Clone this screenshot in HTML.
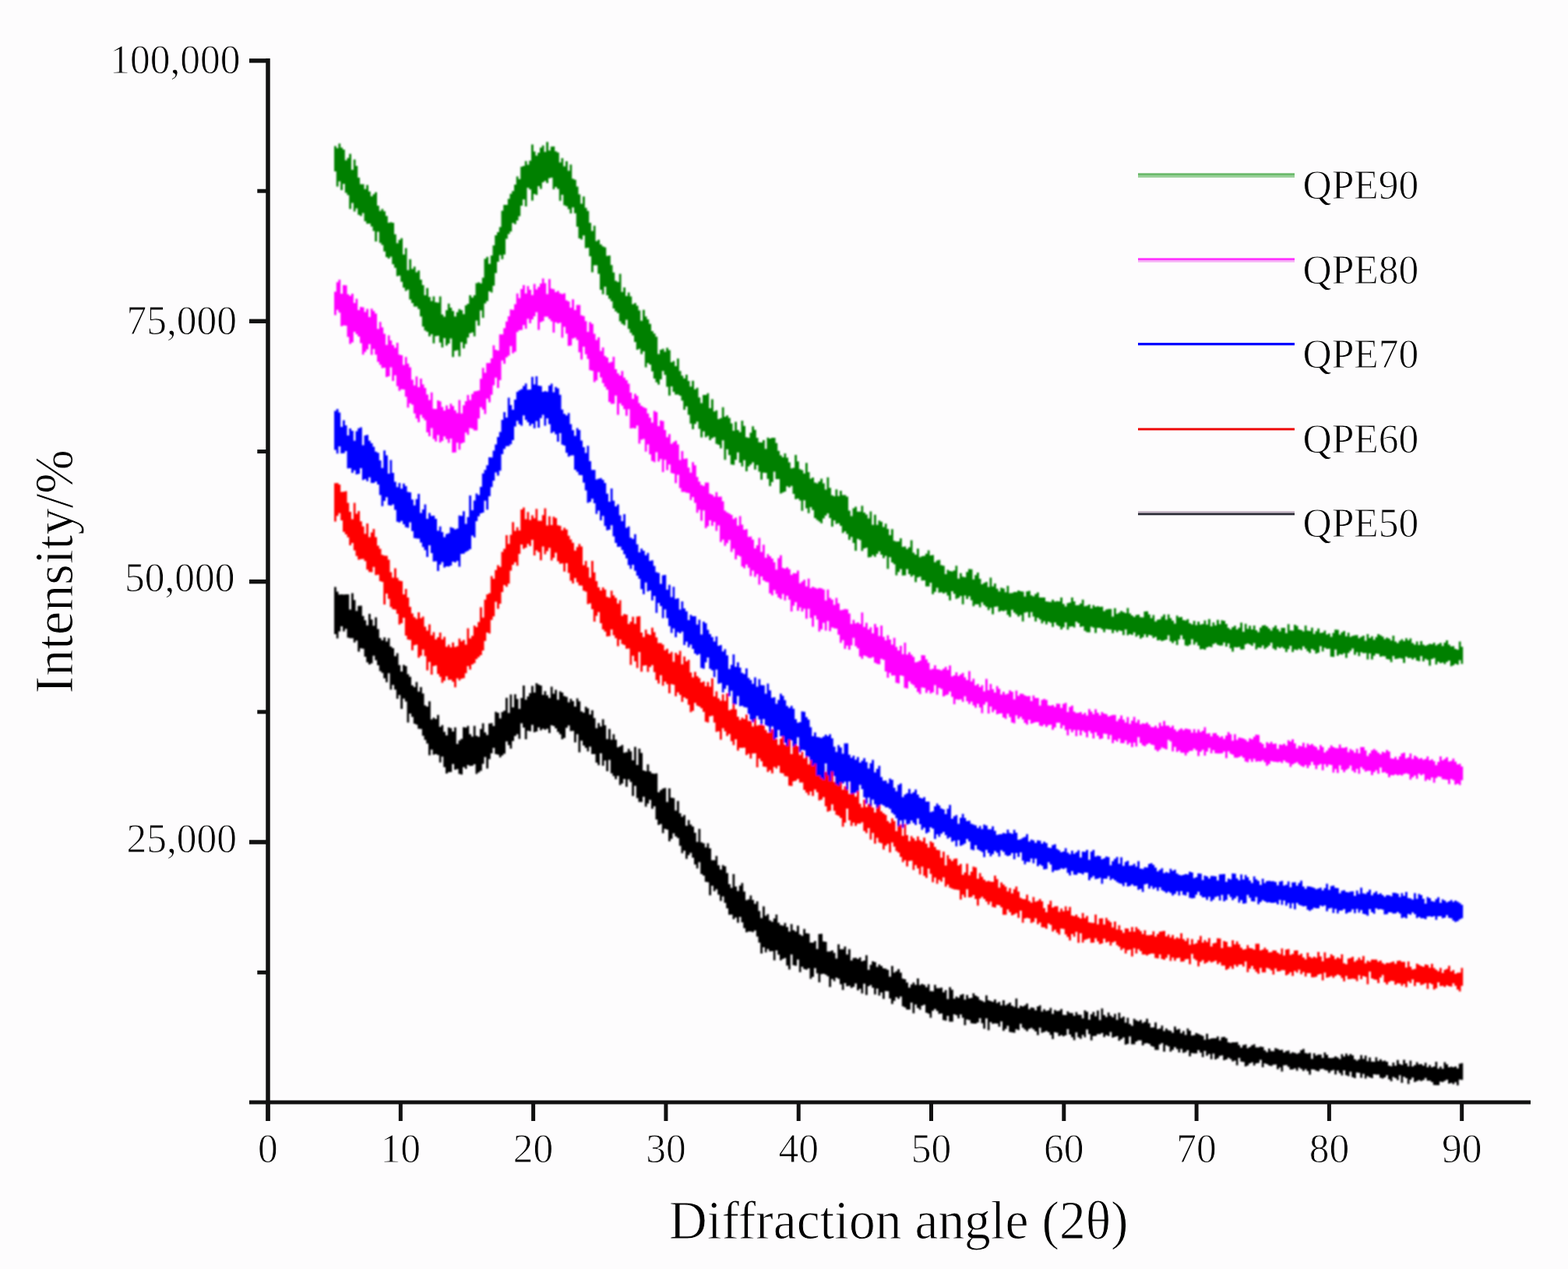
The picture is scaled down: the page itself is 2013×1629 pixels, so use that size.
<!DOCTYPE html>
<html><head><meta charset="utf-8"><title>XRD patterns</title>
<style>
html,body{margin:0;padding:0;background:#fdfcfd;}
body{width:2013px;height:1629px;overflow:hidden;}
svg{display:block;}
</style></head><body>
<svg width="2013" height="1629" viewBox="0 0 2013 1629">
<defs><filter id="bl" x="-2%" y="-2%" width="104%" height="104%"><feGaussianBlur stdDeviation="0.9"/></filter></defs>
<g filter="url(#bl)">
<path d="M429 753.6h2.8v5.8h2.7v3.9h2.7v-.3h2.8v.2h2.8v-.3h2.7v.1h2.7v19.4h2.8v-21h2.8v8.9h2.7v14h2.7v-6.6h2.8v-.1h2.8v13.1h2.7v5.6h2.7v6.4h2.8v-14.7h2.8v7.2h2.7v8h2.7v-10.7h2.8v14.9h2.8v11.5h2.7v3h2.7v-3.7h2.8v5.4h2.8v-4.4h2.7v10.9h2.7v1.8h2.8v10.3h2.8v-3.8h2.7v15.3h2.7v8.3h2.8v-8.6h2.8v1.6h2.7v10.6h2.7v3.1h2.8v11.1h2.8v2.1h2.7v-6.3h2.7v12.1h2.8v-5.7h2.8v8.2h2.7v15.4h2.7v1.4h2.8v-6.8h2.8v23.2h2.7v-2.1h2.7v1.6h2.8v-5.2h2.8v15.3h2.7v-2.2h2.7v8.6h2.8v4.6h2.8v-10.3h2.7v1h2.7v4.2h2.8v-5.2h2.8v21.4h2.7v-4.6h2.7v-2.1h2.8v-14.9h2.8v.6h2.7v-2.3h2.7v10.6h2.8v3.1h2.8v-13.8h2.7v12.9h2.7v1.2h2.8v-10.1h2.8v-7.2h2.7v11.7h2.7v3.2h2.8v-14.6h2.8v-.6h2.7v3.9h2.7v-18.3h2.8v1.1h2.8v7.3h2.7v-8.3h2.7v-1.6h2.8v-16.6h2.8v19.6h2.7v-23.8h2.7v16.6h2.8v-16.9h2.8v6.1h2.7v12.8h2.7v-14h2.8v-16.2h2.8v18.3h2.7v-4.3h2.7v-4.1h2.8v-9.2h2.8v8.4h2.7v-12.1h2.7v1.8h2.8v1.4h2.8v11.9h2.7v-4.8h2.7v5.2h2.8v3.7h2.8v-14.5h2.7v8.9h2.7v-4.9h2.8v12.7h2.8v-10.7h2.7v1.3h2.7v4.5h2.8v1.2h2.8v6.9h2.7v-4.6h2.7v3h2.8v7.2h2.8v-10.6h2.7v3.7h2.7v13h2.8v1.6h2.8v-7.5h2.7v2h2.7v8h2.8v-5.5h2.8v10h2.7v13h2.7v-6.5h2.8v4.1h2.8v-9.2h2.7v7.7h2.7v17.9h2.8v-13h2.8v13.6h2.7v-6.9h2.7v6.9h2.8v9.8h2.8v-1.1h2.7v-1.9h2.7v10.1h2.8v-.8h2.8v-4.2h2.7v3.3h2.7v11.3h2.8v-17.1h2.8v23.3h2.7v-21h2.7v5.4h2.8v22.5h2.8v1h2.7v-8.8h2.7v9.1h2.8v2.4h2.8v.5h2.7v-.4h2.7v24.2h2.8v-2.8h2.8v-1.9h2.7v-.7h2.7v18h2.8v-17.6h2.8v11.9h2.7v.5h2.7v16.2h2.8v-12.3h2.8v15.7h2.7v4.4h2.7v-2.2h2.8v13.7h2.8v-7.2h2.7v5.7h2.7v2.5h2.8v8h2.8v11.9h2.7v-16.7h2.7v17.2h2.8v1.3h2.8v5.2h2.7v-5.2h2.7v6.3h2.8v15.4h2.8v0h2.7v-5.6h2.7v12.1h2.8v5.5h2.8v-5.7h2.7v1.3h2.7v8.8h2.8v14.2h2.8v4.9h2.7v-17.9h2.7v16.1h2.8v5.7h2.8v-7h2.7v-3.2h2.7v11.1h2.8v10.9h2.8v-.9h2.7v-5h2.7v5.7h2.8v4.9h2.8v-3.2h2.7v12.4h2.7v9h2.8v-14.9h2.8v11.9h2.7v-2h2.7v8.1h2.8v1.7h2.8v-4.2h2.7v-4.9h2.7v10.3h2.8v3h2.8v.9h2.7v-3.6h2.7v5.4h2.8v5.6h2.8v-9.4h2.7v7.7h2.7v1.8h2.8v-7.5h2.8v11.2h2.7v1.7h2.7v-8.8h2.8v5.5h2.8v.7h2.7v11.4h2.7v.1h2.8v-2.2h2.8v10.3h2.7v-19.3h2.7v-.2h2.8v9.7h2.8v.5h2.7v12.6h2.7v-.2h2.8v-1.4h2.8v3.3h2.7v7.3h2.7v-18.2h2.8v6.2h2.8v.1h2.7v-3.5h2.7v10.1h2.8v-6.7h2.8v14.5h2.7v-3.2h2.7v-.3h2.8v1.4h2.8v-1.9h2.7v5h2.7v-1h2.8v-6.8h2.8v18.8h2.7v-6.4h2.7v-4.7h2.8v1.1h2.8v6.3h2.7v-3.4h2.7v2.2h2.8v3h2.8v.4h2.7v1.6h2.7v8.6h2.8v-13.6h2.8v8.5h2.7v-1.9h2.7v-2.7h2.8v4.4h2.8v7.8h2.7v.7h2.7v4.3h2.8v6.6h2.8v-4.1h2.7v-2.5h2.7v3.1h2.8v-8.4h2.8v8.7h2.7v-1.6h2.7v1.3h2.8v3h2.8v-3.7h2.7v8.6h2.7v.3h2.8v-8.3h2.8v4.2h2.7v.2h2.7v-.9h2.8v6.1h2.8v-2.7h2.7v11.3h2.7v-15.1h2.8v3.1h2.8v11.7h2.7v-2.9h2.7v1.6h2.8v-3.6h2.8v-1.1h2.7v7.1h2.7v-5.9h2.8v4.1h2.8v-.4h2.7v-6h2.7v3h2.8v1.5h2.8v4h2.7v1.3h2.7v1.4h2.8v-8.5h2.8v6.4h2.7v.9h2.7v1.1h2.8v-3h2.8v4.5h2.7v-1.7h2.7v4.6h2.8v-6.5h2.8v6.6h2.7v-1.9h2.7v-1.7h2.8v4h2.8v1.6h2.7v-10.8h2.7v12.2h2.8v-3h2.8v1h2.7v-1.6h2.7v-2.2h2.8v7.2h2.8v-2.2h2.7v.5h2.7v3.3h2.8v-5.1h2.8v-1.3h2.7v8h2.7v-3.1h2.8v2.2h2.8v-.7h2.7v-3.2h2.7v7.6h2.8v-4.8h2.8v1.3h2.7v-.4h2.7v-2.3h2.8v7.5h2.8v.2h2.7v-4.7h2.7v2h2.8v.3h2.8v3.5h2.7v-4.7h2.7v3.2h2.8v.2h2.8v4.5h2.7v-10.1h2.7v1.6h2.8v10.3h2.8v-7h2.7v-2.9h2.7v5.4h2.8v-7.3h2.8v12.3h2.7v-15.1h2.7v8.7h2.8v2.4h2.8v-5.8h2.7v4h2.7v2h2.8v-4.3h2.8v7.8h2.7v-9.3h2.7v6.8h2.8v-1.6h2.8v7.7h2.7v-6.3h2.7v7.9h2.8v2.4h2.8v-9.1h2.7v2.1h2.7v1.2h2.8v-1.8h2.8v4h2.7v-1.5h2.7v-3.9h2.8v5.8h2.8v5.5h2.7v-.4h2.7v-6.1h2.8v8.5h2.8v-.8h2.7v-3.9h2.7v7.2h2.8v-3.3h2.8v2.3h2.7v.6h2.7v2.6h2.8v-8h2.8v4h2.7v-1.1h2.7v5.5h2.8v-2.8h2.8v5.1h2.7v-8.3h2.7v2.9h2.8v6.2h2.8v-.5h2.7v-2.9h2.7v1.4h2.8v1.3h2.8v1.2h2.7v4.9h2.7v-7.8h2.8v7.1h2.8v-1h2.7v-.3h2.7v.1h2.8v-2.2h2.8v4.8h2.7v-3.8h2.7v-.7h2.8v1.8h2.8v5.2h2.7v.8h2.7v-.8h2.8v0h2.8v-.1h2.7v3.6h2.7v3.4h2.8v-3.2h2.8v-.9h2.7v4.7h2.7v-1.3h2.8v-2.4h2.8v-1.1h2.7v3.9h2.7v0h2.8v-.9h2.8v.3h2.7v4.4h2.7v2.3h2.8v-4.7h2.8v3.4h2.7v.2h2.7v-3.9h2.8v.8h2.8v1.5h2.7v-.3h2.7v3.3h2.8v-1.7h2.8v-.8h2.7v3.9h2.7v-1.5h2.8v.7h2.8v1.3h2.7v-1.3h2.7v-3.5h2.8v-1.4h2.8v5.2h2.7v.7h2.7v-.9h2.8v7.7h2.8v-7.4h2.7v3h2.7v-1.1h2.8v-.1h2.8v4.3h2.7v-7.1h2.7v3h2.8v4.1h2.8v.2h2.7v-.5h2.7v-1.7h2.8v1.5h2.8v2h2.7v-6.3h2.7v3.1h2.8v-3.8h2.8v2.7h2.7v-2.1h2.7v1.6h2.8v5.1h2.8v1.8h2.7v-1.9h2.7v-5.1h2.8v4.7h2.8v-4.2h2.7v7.1h2.7v-4.7h2.8v5.2h2.8v.2h2.7v-5.6h2.7v4.6h2.8v-2.1h2.8v2.4h2.7v-.6h2.7v1.4h2.8v4.9h2.8v.9h2.7v-4.9h2.7v4.1h2.8v-7.2h2.8v4.9h2.7v1.4h2.7v-6.5h2.8v4.3h2.8v3.9h2.7v-7.4h2.7v7.6h2.8v-1.7h2.8v-3.8h2.7v2.7h2.7v-.1h2.8v1.9h2.8v-3.8h2.7v5.9h2.7v-2.9h2.8v2.9h2.8v-1.1h2.7v-6h2.7v8.8h2.8v-2.5h2.8v2.7h2.7v-8.6h2.7v2.8h2.8v3.8h2.8v-.7h2.7v.8h2.7v-1.2h2.8v2.7h2.8v-6h2.7v-.9h2.7v21.6h-2.7v-.6h-2.7v7.6h-2.8v-4h-2.8v2.4h-2.7v-1.8h-2.7v1.1h-2.8v-5.1h-2.8v1.6h-2.7v1.6h-2.7v-.6h-2.8v4.5h-2.8v-.1h-2.7v-.1h-2.7v-3.9h-2.8v-1.7h-2.8v.1h-2.7v-3.5h-2.7v2.7h-2.8v1.2h-2.8v-1.2h-2.7v1.3h-2.7v1.1h-2.8v-5.6h-2.8v2.7h-2.7v5.6h-2.7v-7.6h-2.8v-1.8h-2.8v7.7h-2.7v-9.6h-2.7v6.1h-2.8v-2.3h-2.8v-1.7h-2.7v5.6h-2.7v-2.6h-2.8v-5.1h-2.8v2.7h-2.7v1.4h-2.7v-.9h-2.8v-4h-2.8v0h-2.7v-.6h-2.7v5h-2.8v-.8h-2.8v-1.5h-2.7v2.8h-2.7v-6h-2.8v5.2h-2.8v-6.3h-2.7v-.6h-2.7v7.4h-2.8v-1.3h-2.8v-7h-2.7v5.6h-2.7v-1.1h-2.8v-6.4h-2.8v6.7h-2.7v-3.2h-2.7v-3.1h-2.8v4.9h-2.8v-5.8h-2.7v1h-2.7v2.8h-2.8v-2.9h-2.8v-.7h-2.7v-1.6h-2.7v.5h-2.8v2.7h-2.8v-.8h-2.7v-1.4h-2.7v-.3h-2.8v6.9h-2.8v-4.5h-2.7v-2.7h-2.7v2.3h-2.8v-2.5h-2.8v-1.6h-2.7v3.9h-2.7v-2.9h-2.8v1.2h-2.8v.2h-2.7v-3.6h-2.7v-2.1h-2.8v.3h-2.8v7.9h-2.7v-5.2h-2.7v2.1h-2.8v-5.8h-2.8v.2h-2.7v1.7h-2.7v-.7h-2.8v-1.9h-2.8v-.9h-2.7v4.9h-2.7v-9.5h-2.8v4h-2.8v.6h-2.7v2.8h-2.7v-4.1h-2.8v1.3h-2.8v2.8h-2.7v1.2h-2.7v-5.8h-2.8v-.4h-2.8v-4.8h-2.7v9.4h-2.7v-5.9h-2.8v1h-2.8v-3.1h-2.7v-1.7h-2.7v2.3h-2.8v.9h-2.8v-6.1h-2.7v.7h-2.7v3.1h-2.8v1.3h-2.8v-7.5h-2.7v7.3h-2.7v-6.6h-2.8v2.1h-2.8v-6.1h-2.7v8h-2.7v-5.9h-2.8v-3.1h-2.8v4.1h-2.7v0h-2.7v-.5h-2.8v4.4h-2.8v-8.1h-2.7v2.4h-2.7v1.2h-2.8v-5.2h-2.8v4.6h-2.7v-4.3h-2.7v-2.5h-2.8v3.5h-2.8v2.4h-2.7v-6.8h-2.7v-1.6h-2.8v8.3h-2.8v-10.9h-2.7v1.6h-2.7v7.1h-2.8v-.1h-2.8v-4h-2.7v-.9h-2.7v-2.9h-2.8v-.8h-2.8v.5h-2.7v2.3h-2.7v-6.3h-2.8v-.2h-2.8v1.5h-2.7v3.7h-2.7v-.1h-2.8v-9.9h-2.8v9.5h-2.7v.9h-2.7v-9.2h-2.8v2.2h-2.8v2h-2.7v-6h-2.7v.9h-2.8v1h-2.8v-7.1h-2.7v5.3h-2.7v-1.4h-2.8v2.5h-2.8v-5.3h-2.7v1.7h-2.7v-.2h-2.8v2.4h-2.8v.2h-2.7v5.5h-2.7v-8h-2.8v-6.1h-2.8v10.2h-2.7v-3h-2.7v4.8h-2.8v-1.9h-2.8v-6.2h-2.7v9.9h-2.7v-3.6h-2.8v-3.7h-2.8v-7h-2.7v8.1h-2.7v1.3h-2.8v-1.5h-2.8v1.2h-2.7v-4.3h-2.7v-.8h-2.8v8.9h-2.8v-5.2h-2.7v-3.6h-2.7v-1.5h-2.8v1.2h-2.8v1.1h-2.7v-6.5h-2.7v9.4h-2.8v-4.8h-2.8v-2.5h-2.7v-2h-2.7v1.3h-2.8v3.1h-2.8v-2.4h-2.7v-2.1h-2.7v-5h-2.8v7.9h-2.8v-.9h-2.7v4.4h-2.7v-.5h-2.8v-.4h-2.8v-8.1h-2.7v4h-2.7v2.6h-2.8v-12.1h-2.8v6.9h-2.7v-4.2h-2.7v-.1h-2.8v.4h-2.8v-2.2h-2.7v10.6h-2.7v-15.4h-2.8v13.2h-2.8v-6.8h-2.7v-6.5h-2.7v5.3h-2.8v1.7h-2.8v0h-2.7v-.5h-2.7v-4.1h-2.8v-.7h-2.8v7.2h-2.7v-9.5h-2.7v-4.3h-2.8v5h-2.8v-4h-2.7v-1.2h-2.7v9.4h-2.8v.2h-2.8v-7.6h-2.7v6.2h-2.7v-.7h-2.8v-8.4h-2.8v.3h-2.7v-3.6h-2.7v-2.5h-2.8v2.2h-2.8v9.1h-2.7v-5.3h-2.7v-1.3h-2.8v-10.2h-2.8v1.2h-2.7v5.2h-2.7v-2.1h-2.8v-4.7h-2.8v11.4h-2.7v-13.8h-2.7v9.1h-2.8v-.2h-2.8v-2.6h-2.7v-1.5h-2.7v-12.5h-2.8v2.9h-2.8v-2.2h-2.7v4.8h-2.7v3.9h-2.8v-7h-2.8v-9.3h-2.7v-.1h-2.7v10h-2.8v-8.2h-2.8v3.8h-2.7v-8.8h-2.7v7.4h-2.8v-8.6h-2.8v-3.3h-2.7v1.4h-2.7v11.2h-2.8v-14.4h-2.8v12.5h-2.7v-6.1h-2.7v2.1h-2.8v-8.7h-2.8v4.1h-2.7v1.5h-2.7v-2.8h-2.8v.7h-2.8v-4h-2.7v8.7h-2.7v-7.4h-2.8v-6.9h-2.8v-1.4h-2.7v4.4h-2.7v-2.7h-2.8v10.2h-2.8v-13.7h-2.7v-2h-2.7v-1.3h-2.8v.6h-2.8v10.4h-2.7v-11.5h-2.7v-6.7h-2.8v11.3h-2.8v2.5h-2.7v-13.5h-2.7v1.6h-2.8v-.7h-2.8v-3.1h-2.7v7.1h-2.7v-16.2h-2.8v8h-2.8v-.7h-2.7v-13.9h-2.7v19.2h-2.8v-5h-2.8v-9.7h-2.7v1.4h-2.7v1.6h-2.8v-7.3h-2.8v-5.4h-2.7v12.7h-2.7v-11.6h-2.8v.1h-2.8v-2.9h-2.7v4.3h-2.7v-6.5h-2.8v8h-2.8v-14.1h-2.7v-7.8h-2.7v-7.6h-2.8v1.9h-2.8v-.8h-2.7v.1h-2.7v1h-2.8v-5.3h-2.8v-7.4h-2.7v-7h-2.7v7.5h-2.8v-6.9h-2.8v2.4h-2.7v-6.1h-2.7v.3h-2.8v-8.4h-2.8v-7h-2.7v-8.2h-2.7v5.7h-2.8v-8h-2.8v-6.9h-2.7v2.6h-2.7v-7.2h-2.8v12.4h-2.8v-16.8h-2.7v-.6h-2.7v-7.9h-2.8v-1.9h-2.8v-15.4h-2.7v8h-2.7v-5h-2.8v-8.7h-2.8v-6.2h-2.7v3h-2.7v4.6h-2.8v-10.3h-2.8v3.2h-2.7v-9.6h-2.7v-10h-2.8v-1.9h-2.8v-4.1h-2.7v7.1h-2.7v3.3h-2.8v-15.1h-2.8v-.9h-2.7v5.4h-2.7v-11.7h-2.8v1.1h-2.8v-6.8h-2.7v-17.1h-2.7v3.2h-2.8v-11.5h-2.8v4.9h-2.7v3.8h-2.7v-12.7h-2.8v6.7h-2.8v.1h-2.7v-5.1h-2.7v-15.7h-2.8v13h-2.8v-18h-2.7v-3.1h-2.7v9.4h-2.8v-10h-2.8v5.7h-2.7v2h-2.7v-11.8h-2.8v4.4h-2.8v-4h-2.7v-3.6h-2.7v-17.2h-2.8v14.4h-2.8v-13.6h-2.7v6.7h-2.7v-16h-2.8v15.2h-2.8v-3.2h-2.7v-11h-2.7v0h-2.8v-9.4h-2.8v5.9h-2.7v-4.4h-2.7v-3.2h-2.8v-6.2h-2.8v15.1h-2.7v-23.3h-2.7v10.6h-2.8v-14.9h-2.8v.3h-2.7v-7.2h-2.7v3h-2.8v12.9h-2.8v1.8h-2.7v-6.4h-2.7v-3h-2.8v-4.7h-2.8v-2.9h-2.7v-1.1h-2.7v10.1h-2.8v-5.5h-2.8v1.3h-2.7v-1.3h-2.7v2.1h-2.8v-3.8h-2.8v5.3h-2.7v.9h-2.7v-9.6h-2.8v8.3h-2.8v-.8h-2.7v11.1h-2.7v-14.9h-2.8v-5.7h-2.8v20.1h-2.7v-6.1h-2.7v2.3h-2.8v6.6h-2.8v9.8h-2.7v-4.5h-2.7v-4.9h-2.8v15.9h-2.8v2.1h-2.7v2.5h-2.7v-3.5h-2.8v-.7h-2.8v-8h-2.7v6.9h-2.7v7.6h-2.8v12h-2.8v-14.7h-2.7v8.7h-2.7v9h-2.8v2.1h-2.8v1.8h-2.7v-12.3h-2.7v1.9h-2.8v.3h-2.8v-1.2h-2.7v5h-2.7v-2.4h-2.8v9.5h-2.8v-.8h-2.7v-6.1h-2.7v.8h-2.8v-7.4h-2.8v10.4h-2.7v.2h-2.7v1.7h-2.8v-8.3h-2.8v-13.5h-2.7v7.5h-2.7v-9.4h-2.8v-1.2h-2.8v.7h-2.7v-6.5h-2.7v7.2h-2.8v-15.1h-2.8v-4.6h-2.7v-5.2h-2.7v-8.9h-2.8v-.3h-2.8v-5.2h-2.7v-1.2h-2.7v-8.8h-2.8v-4.2h-2.8v11.6h-2.7v-27.2h-2.7v-3.7h-2.8v13.2h-2.8v-17.7h-2.7v4.7h-2.7v-11.6h-2.8v-6.1h-2.8v6h-2.7v-21h-2.7v11.6h-2.8v-5h-2.8v-7h-2.7v-2.2h-2.7v-7.7h-2.8v-6.3h-2.8v-5.8h-2.7v9.8h-2.7v1.3h-2.8v-2.6h-2.8v-7.2h-2.7v-10.3h-2.7v-.5h-2.8v4.2h-2.8v-14.2h-2.7v2.4h-2.7v-5.4h-2.8v0h-2.8v-.8h-2.7v-11.2h-2.7v3.2h-2.8v-6.4h-2.8v6.5h-2.7v8.9h-2.7v-5.4h-2.8z" fill="#000000"/>
<path d="M429 620.2h2.8v-.3h2.7v2.2h2.7v9.4h2.8v-.3h2.8v-.6h2.7v14.9h2.7v11.6h2.8v9.3h2.8v-21h2.7v14h2.7v-3.3h2.8v13.2h2.8v6.4h2.7v9.6h2.7v-13.4h2.8v17.5h2.8v-5.8h2.7v-4.7h2.7v10.6h2.8v10.9h2.8v4.1h2.7v7.7h2.7v1h2.8v.3h2.8v5.1h2.7v16h2.7v7h2.8v-12.1h2.8v12.3h2.7v3.4h2.7v.9h2.8v17h2.8v-7h2.7v10.8h2.7v12.2h2.8v8.3h2.8v4.8h2.7v2.3h2.7v-8.4h2.8v7.5h2.8v-2h2.7v12.9h2.7v4.9h2.8v-7.8h2.8v13.8h2.7v-3.9h2.7v9.3h2.8v-2.8h2.8v-6.1h2.7v8.9h2.7v-3.4h2.8v12.9h2.8v-2.9h2.7v3.6h2.7v-6.3h2.8v5.9h2.8v-1.1h2.7v-9.7h2.7v3.4h2.8v-1.8h2.8v6.2h2.7v-21h2.7v12.8h2.8v-3.1h2.8v-13.4h2.7v2.2h2.7v-6.6h2.8v-19.1h2.8v13.4h2.7v-23.1h2.7v-6.7h2.8v-1.6h2.8v-21.9h2.7v3.6h2.7v-11.3h2.8v-6.2h2.8v2.2h2.7v-19.4h2.7v-3.8h2.8v-17.5h2.8v11.1h2.7v-11.6h2.7v-16.3h2.8v11.2h2.8v-4.7h2.7v4.1h2.7v-26.9h2.8v-2.4h2.8v14.8h2.7v-9.2h2.7v10.4h2.8v-6.2h2.8v3.8h2.7v-11.9h2.7v15.1h2.8v.1h2.8v-7.2h2.7v-8.8h2.7v22.1h2.8v-11.8h2.8v11.1h2.7v-10.7h2.7v1.8h2.8v9.2h2.8v.7h2.7v5.8h2.7v-3.1h2.8v2.2h2.8v7.9h2.7v4.8h2.7v4.2h2.8v10h2.8v-4.4h2.7v-4h2.7v3.1h2.8v24.1h2.8v-5.6h2.7v8.4h2.7v13.2h2.8v-21.5h2.8v14.8h2.7v11.3h2.7v7.9h2.8v3.9h2.8v-4h2.7v2.9h2.7v9.5h2.8v1h2.8v-9.1h2.7v6.1h2.7v3.1h2.8v7.4h2.8v-4.3h2.7v19.9h2.7v-2.1h2.8v.7h2.8v12.1h2.7v-3.2h2.7v-6.2h2.8v9h2.8v-9.1h2.7v-.7h2.7v21h2.8v5.9h2.8v-9.6h2.7v5.5h2.7v1.3h2.8v-9.2h2.8v5.7h2.7v6.8h2.7v7.3h2.8v0h2.8v1.8h2.7v7.3h2.7v-2h2.8v6.3h2.8v-2.2h2.7v12.6h2.7v-11.3h2.8v2.5h2.8v-5h2.7v17.2h2.7v-10h2.8v6.3h2.8v-2.2h2.7v16.4h2.7v6.3h2.8v-7.1h2.8v5.5h2.7v2.6h2.7v5.5h2.8v-1.3h2.8v6.1h2.7v-5.4h2.7v6h2.8v-10.7h2.8v23.2h2.7v-6.6h2.7v9h2.8v3.2h2.8v-8.4h2.7v8.6h2.7v-9.8h2.8v21.8h2.8v-1.2h2.7v-16.4h2.7v16.4h2.8v9.4h2.8v4.2h2.7v-2.9h2.7v1.6h2.8v-5.6h2.8v8.1h2.7v0h2.7v7.1h2.8v-9.5h2.8v8.5h2.7v-1h2.7v-.2h2.8v1h2.8v5.9h2.7v3.6h2.7v-1h2.8v-3.5h2.8v1.8h2.7v10.5h2.7v7.6h2.8v-7.9h2.8v-6.6h2.7v14.4h2.7v-3.8h2.8v-4.1h2.8v19.8h2.7v-15.9h2.7v2.1h2.8v3.8h2.8v11.2h2.7v-4.1h2.7v8.5h2.8v-5.9h2.8v13.5h2.7v-14.9h2.7v-.7h2.8v6.2h2.8v5.3h2.7v9.1h2.7v-1.9h2.8v-.7h2.8v7.5h2.7v-3.8h2.7v3.5h2.8v-4.1h2.8v17.1h2.7v-5.7h2.7v6.7h2.8v-1.8h2.8v10.7h2.7v-4.5h2.7v.9h2.8v9.2h2.8v-14.7h2.7v10.9h2.7v7h2.8v-7.2h2.8v16.5h2.7v4.6h2.7v-9.9h2.8v9.6h2.8v-4.2h2.7v-1.1h2.7v5.9h2.8v6.3h2.8v-8.5h2.7v-4.7h2.7v11.7h2.8v2.4h2.8v2h2.7v8.2h2.7v2.5h2.8v-6.2h2.8v3.6h2.7v12.9h2.7v-13.6h2.8v5.3h2.8v14.4h2.7v-14.9h2.7v13.9h2.8v7.8h2.8v-6.5h2.7v2.6h2.7v3.4h2.8v-5.6h2.8v4.8h2.7v1.7h2.7v-5h2.8v7.7h2.8v5.2h2.7v-8.1h2.7v1.7h2.8v5.5h2.8v3.9h2.7v.4h2.7v9.5h2.8v-7.7h2.8v17.7h2.7v-13.2h2.7v4.8h2.8v2.7h2.8v-2.7h2.7v-.5h2.7v9h2.8v-2h2.8v13.9h2.7v-2.9h2.7v-11.4h2.8v14.7h2.8v-4.3h2.7v-6.7h2.7v1.1h2.8v14.5h2.8v-7.2h2.7v4.6h2.7v3.8h2.8v2.3h2.8v-.8h2.7v1.1h2.7v.3h2.8v-8.1h2.8v4.6h2.7v10.8h2.7v-6.6h2.8v2.8h2.8v2.6h2.7v6h2.7v-4.2h2.8v6.7h2.8v-5.3h2.7v-3.4h2.7v6.4h2.8v8.1h2.8v1.4h2.7v.3h2.7v-5.6h2.8v8h2.8v2.1h2.7v-7.3h2.7v6.2h2.8v-1.1h2.8v-2.5h2.7v2.9h2.7v8.9h2.8v5.3h2.8v-10h2.7v-4.9h2.7v8.8h2.8v-1.6h2.8v-.2h2.7v7.4h2.7v-4.3h2.8v3.4h2.8v-6.1h2.7v5.3h2.7v-4.6h2.8v10.9h2.8v.9h2.7v-2.2h2.7v3.3h2.8v1.9h2.8v-7.1h2.7v6.6h2.7v-2.8h2.8v8.1h2.8v.5h2.7v.3h2.7v-10.8h2.8v12.7h2.8v-7.7h2.7v-.2h2.7v8.1h2.8v-8.5h2.8v3.2h2.7v2.2h2.7v6.7h2.8v-7.5h2.8v10.3h2.7v-5.4h2.7v6.1h2.8v3.5h2.8v-5.7h2.7v.4h2.7v3.8h2.8v-5.9h2.8v5.9h2.7v-5.9h2.7v2.8h2.8v2.4h2.8v3.8h2.7v-4.7h2.7v6.2h2.8v0h2.8v-.5h2.7v-4.6h2.7v6.8h2.8v-3.2h2.8v-3h2.7v-.6h2.7v-.4h2.8v7h2.8v-2.6h2.7v4h2.7v-3.1h2.8v4.9h2.8v-1.9h2.7v1.4h2.7v-6.7h2.8v7.4h2.8v2.6h2.7v-3.7h2.7v8.5h2.8v-7.2h2.8v6.4h2.7v-1.3h2.7v-3.9h2.8v-5.2h2.8v8.3h2.7v-3.2h2.7v2.6h2.8v-5.1h2.8v10.7h2.7v-4h2.7v-.7h2.8v-5.7h2.8v.2h2.7v12.4h2.7v-9.2h2.8v1.2h2.8v6.2h2.7v.2h2.7v-8.5h2.8v5.2h2.8v-3.7h2.7v3.7h2.7v4.3h2.8v2.5h2.8v-.8h2.7v-5h2.7v3.7h2.8v.5h2.8v1.6h2.7v-7.6h2.7v.2h2.8v8.3h2.8v-1h2.7v-2.4h2.7v2.5h2.8v3.4h2.8v-.1h2.7v-2.3h2.7v.2h2.8v2.7h2.8v1.9h2.7v-7.4h2.7v9.1h2.8v-7.4h2.8v-.8h2.7v7.5h2.7v-1.3h2.8v-4.3h2.8v-.2h2.7v5.9h2.7v-1.7h2.8v4.9h2.8v2.3h2.7v-8.3h2.7v5.2h2.8v1.4h2.8v-1.7h2.7v1.4h2.7v-7.5h2.8v5.9h2.8v6.3h2.7v-11.5h2.7v7.3h2.8v-.7h2.8v-4.2h2.7v2h2.7v4.3h2.8v-2.2h2.8v1.3h2.7v-5.4h2.7v11.6h2.8v1.1h2.8v-7.3h2.7v-.6h2.7v-1.6h2.8v6.2h2.8v-1.8h2.7v-3.3h2.7v3h2.8v-5.1h2.8v9.3h2.7v-3.2h2.7v1.3h2.8v-2.8h2.8v0h2.7v0h2.7v2.7h2.8v-1.6h2.8v3.3h2.7v1.6h2.7v-1.8h2.8v.2h2.8v-.9h2.7v-1.1h2.7v3.1h2.8v-3.8h2.8v-.5h2.7v1.8h2.7v-.1h2.8v7.2h2.8v-7.6h2.7v6.8h2.7v3.3h2.8v-.7h2.8v-6.7h2.7v1.6h2.7v1.3h2.8v1.1h2.8v-3.1h2.7v.9h2.7v3.4h2.8v-4.9h2.8v5.1h2.7v2.3h2.7v2.1h2.8v-4.2h2.8v6.4h2.7v-4.1h2.7v-1.2h2.8v-4h2.8v7.3h2.7v-1.8h2.7v4.8h2.8v-1.3h2.8v-.1h2.7v-6.1h2.7v23.1h-2.7v7.1h-2.7v-2.4h-2.8v-4.9h-2.8v-3.1h-2.7v4.2h-2.7v-.4h-2.8v-1.3h-2.8v2.1h-2.7v-1.3h-2.7v.2h-2.8v-4.9h-2.8v7.5h-2.7v1.8h-2.7v-6.7h-2.8v-1.6h-2.8v7.6h-2.7v-7.4h-2.7v1.3h-2.8v1.2h-2.8v-3.4h-2.7v-.1h-2.7v4.6h-2.8v-8.4h-2.8v4.8h-2.7v-2.3h-2.7v7.4h-2.8v-4.1h-2.8v2.4h-2.7v-3h-2.7v-.2h-2.8v1.8h-2.8v-4.6h-2.7v-.6h-2.7v1.7h-2.8v3.1h-2.8v-2.6h-2.7v-9.7h-2.7v3.4h-2.8v7.2h-2.8v-4.2h-2.7v-.5h-2.7v-1.2h-2.8v-8.9h-2.8v16.4h-2.7v-9.7h-2.7v-1h-2.8v4.1h-2.8v-5.2h-2.7v7.6h-2.7v-2.7h-2.8v-.4h-2.8v.5h-2.7v.3h-2.7v-4.3h-2.8v6.9h-2.8v-4.1h-2.7v-3.3h-2.7v-1.2h-2.8v1.6h-2.8v2.6h-2.7v-2.6h-2.7v1.5h-2.8v.8h-2.8v-6.6h-2.7v10.1h-2.7v-8.3h-2.8v.8h-2.8v2.7h-2.7v.9h-2.7v-.1h-2.8v-5.2h-2.8v0h-2.7v4.1h-2.7v-5.6h-2.8v2.8h-2.8v-5.8h-2.7v3.7h-2.7v-2h-2.8v6.3h-2.8v-4.7h-2.7v2.4h-2.7v1.6h-2.8v-6.7h-2.8v-.2h-2.7v1.6h-2.7v.3h-2.8v-3.8h-2.8v7.8h-2.7v-5.3h-2.7v-2.3h-2.8v-1.1h-2.8v5.9h-2.7v0h-2.7v-5.7h-2.8v7.3h-2.8v-2.3h-2.7v-3.3h-2.7v-4.2h-2.8v3.5h-2.8v4.5h-2.7v-13.8h-2.7v6.4h-2.8v-2.6h-2.8v.1h-2.7v2.7h-2.7v-2.5h-2.8v5.4h-2.8v-3.2h-2.7v2.9h-2.7v1.6h-2.8v-5.5h-2.8v0h-2.7v-4.1h-2.7v2.3h-2.8v-4.5h-2.8v1.1h-2.7v1.1h-2.7v-1.9h-2.8v2h-2.8v1.5h-2.7v-4.7h-2.7v2.4h-2.8v5.6h-2.8v-7.7h-2.7v-1.9h-2.7v-6.4h-2.8v13.3h-2.8v-6.6h-2.7v.3h-2.7v2.8h-2.8v.4h-2.8v-5.1h-2.7v.5h-2.7v3.2h-2.8v-3.9h-2.8v4.3h-2.7v-8.1h-2.7v4h-2.8v2.6h-2.8v-1.2h-2.7v-5.7h-2.7v5h-2.8v-.4h-2.8v-5.6h-2.7v-.1h-2.7v.8h-2.8v1.5h-2.8v-1.1h-2.7v0h-2.7v-4.4h-2.8v-2.4h-2.8v5.5h-2.7v-6.7h-2.7v10.4h-2.8v-8.7h-2.8v.7h-2.7v4.4h-2.7v-6.6h-2.8v2h-2.8v-4.3h-2.7v-1.9h-2.7v-4.9h-2.8v1.4h-2.8v3.9h-2.7v-4.9h-2.7v1h-2.8v-4.9h-2.8v6.1h-2.7v1.1h-2.7v-3.6h-2.8v-4.1h-2.8v5.7h-2.7v.1h-2.7v-5.7h-2.8v1.1h-2.8v1h-2.7v3.3h-2.7v-11.9h-2.8v12.2h-2.8v-13.9h-2.7v6.2h-2.7v-3.6h-2.8v8.3h-2.8v-4.4h-2.7v-3.4h-2.7v-6.8h-2.8v-.6h-2.8v7.7h-2.7v-2.5h-2.7v-3.8h-2.8v2.4h-2.8v-8.5h-2.7v-1.7h-2.7v6.6h-2.8v-1.7h-2.8v-.2h-2.7v-6h-2.7v2.2h-2.8v-7.7h-2.8v4.7h-2.7v1.2h-2.7v-5.7h-2.8v-.7h-2.8v.8h-2.7v5.4h-2.7v-15.6h-2.8v9.3h-2.8v-6h-2.7v1.6h-2.7v1.2h-2.8v-4h-2.8v-3.4h-2.7v6.6h-2.7v0h-2.8v-9.5h-2.8v-2.6h-2.7v-.7h-2.7v3.5h-2.8v-.6h-2.8v-6.7h-2.7v3.7h-2.7v-4.1h-2.8v-3.3h-2.8v-2.6h-2.7v2.3h-2.7v8.8h-2.8v-8.3h-2.8v-5.1h-2.7v2.5h-2.7v.5h-2.8v-10.4h-2.8v10.3h-2.7v-3.5h-2.7v6.3h-2.8v-12.2h-2.8v-.4h-2.7v-.3h-2.7v-1h-2.8v-1.3h-2.8v-4.1h-2.7v2.8h-2.7v-11.9h-2.8v5.5h-2.8v-2.2h-2.7v4.9h-2.7v-8.1h-2.8v6.1h-2.8v-10.7h-2.7v-6.7h-2.7v11.9h-2.8v-2.7h-2.8v-11.9h-2.7v10.1h-2.7v-7.8h-2.8v-4.3h-2.8v6.4h-2.7v-12.1h-2.7v.6h-2.8v6.9h-2.8v-8h-2.7v2.5h-2.7v-6.6h-2.8v-5.7h-2.8v-1.8h-2.7v-5.8h-2.7v-5.2h-2.8v12.6h-2.8v-11h-2.7v2.2h-2.7v5.2h-2.8v-8h-2.8v-1h-2.7v-6h-2.7v7.3h-2.8v-13.6h-2.8v8.4h-2.7v-14.8h-2.7v6.6h-2.8v-2.8h-2.8v-11.2h-2.7v1.7h-2.7v0h-2.8v3.1h-2.8v-4.3h-2.7v4.2h-2.7v-7.3h-2.8v-14.8h-2.8v18h-2.7v5.2h-2.7v-11.2h-2.8v-2.8h-2.8v-1.3h-2.7v-5.2h-2.7v-8.4h-2.8v8.3h-2.8v1.4h-2.7v-7h-2.7v-11.9h-2.8v3.2h-2.8v1h-2.7v-10.3h-2.7v-3.6h-2.8v8.3h-2.8v-5.9h-2.7v4.8h-2.7v-3.3h-2.8v-3.4h-2.8v-9.5h-2.7v-.1h-2.7v-4.5h-2.8v2.3h-2.8v.8h-2.7v5.9h-2.7v-.3h-2.8v-11.8h-2.8v-.6h-2.7v-3.5h-2.7v-.4h-2.8v-9.3h-2.8v3.5h-2.7v-1.9h-2.7v8.2h-2.8v-4.1h-2.8v2.2h-2.7v-6.4h-2.7v-.6h-2.8v-6.6h-2.8v-3.5h-2.7v11.1h-2.7v-17.9h-2.8v.3h-2.8v6.4h-2.7v-6.1h-2.7v1.6h-2.8v-9.5h-2.8v.3h-2.7v.1h-2.7v3.4h-2.8v-14.4h-2.8v7.4h-2.7v-4.9h-2.7v-9.4h-2.8v2.5h-2.8v-5.9h-2.7v-4h-2.7v14.6h-2.8v-10.7h-2.8v.8h-2.7v-12.1h-2.7v-8.7h-2.8v.8h-2.8v8.1h-2.7v-1.2h-2.7v-12.7h-2.8v-4.5h-2.8v-2.2h-2.7v-1.2h-2.7v-3.5h-2.8v10.2h-2.8v1.8h-2.7v-9.6h-2.7v-7.6h-2.8v-1.8h-2.8v5.7h-2.7v-9.1h-2.7v-3.1h-2.8v5h-2.8v-14.8h-2.7v-.8h-2.7v11.8h-2.8v-11.7h-2.8v-3.3h-2.7v5.3h-2.7v-13.6h-2.8v10.7h-2.8v-4.3h-2.7v-10.3h-2.7v-9.1h-2.8v2.6h-2.8v6.2h-2.7v-8.6h-2.7v.7h-2.8v7.7h-2.8v-25.2h-2.7v20.3h-2.7v-8.4h-2.8v-7.3h-2.8v11.8h-2.7v-21.1h-2.7v.4h-2.8v-4.8h-2.8v-1.3h-2.7v-5.6h-2.7v8.4h-2.8v-10.2h-2.8v-3.9h-2.7v-7.4h-2.7v8.5h-2.8v.4h-2.8v-6.2h-2.7v-2.8h-2.7v-7.9h-2.8v-14.3h-2.8v4.9h-2.7v7.4h-2.7v-16h-2.8v-7.6h-2.8v1.2h-2.7v-16.1h-2.7v-1.3h-2.8v-6.5h-2.8v-.2h-2.7v-4h-2.7v-5.6h-2.8v7h-2.8v-3.4h-2.7v-10h-2.7v-12.4h-2.8v10.6h-2.8v-10.5h-2.7v.5h-2.7v-3.2h-2.8v-10.9h-2.8v6.4h-2.7v3.5h-2.7v-16.2h-2.8v4.2h-2.8v4.1h-2.7v-10.1h-2.7v17.8h-2.8v-10.6h-2.8v-2.1h-2.7v6.4h-2.7v-20.1h-2.8v8.1h-2.8v-2.8h-2.7v4.7h-2.7v1.7h-2.8v-5.6h-2.8v12h-2.7v15.2h-2.7v-4.4h-2.8v3.1h-2.8v7.7h-2.7v16.7h-2.7v4h-2.8v-2.2h-2.8v8.8h-2.7v15h-2.7v6.6h-2.8v-8.9h-2.8v18.6h-2.7v4.5h-2.7v17.6h-2.8v-1.3h-2.8v10.7h-2.7v12.3h-2.7v6h-2.8v2.5h-2.8v2.5h-2.7v5.2h-2.7v1.9h-2.8v6.4h-2.8v-4.6h-2.7v9.4h-2.7v6.2h-2.8v.8h-2.8v2.3h-2.7v-2.8h-2.7v11.4h-2.8v-6.9h-2.8v-2.7h-2.7v.1h-2.7v-4.5h-2.8v5.5h-2.8v2.7h-2.7v-7.6h-2.7v-3.6h-2.8v-11h-2.8v.8h-2.7v11h-2.7v-16.2h-2.8v10.8h-2.8v-18.3h-2.7v-8.6h-2.7v8h-2.8v2.6h-2.8v-16.8h-2.7v.7h-2.7v6.5h-2.8v-13.1h-2.8v-.7h-2.7v-5h-2.7v-22.9h-2.8v6.9h-2.8v1.8h-2.7v-13.6h-2.7v-5.7h-2.8v-.3h-2.8v-2.8h-2.7v-10.5h-2.7v-6.9h-2.8v14h-2.8v-28.8h-2.7v-1.1h-2.7v-8.3h-2.8v.5h-2.8v-10.4h-2.7v6.8h-2.7v-.4h-2.8v-2.9h-2.8v-11h-2.7v-2.8h-2.7v.2h-2.8v.9h-2.8v-4.8h-2.7v-7.3h-2.7v-9.6h-2.8v3.1h-2.8v-10.3h-2.7v-3.6h-2.7v-3.4h-2.8v-14.7h-2.8v-9.3h-2.7v3.5h-2.7v7.4h-2.8z" fill="#ff0000"/>
<path d="M429 527.5h2.8v-2.4h2.7v4.3h2.7v18.5h2.8v-8.3h2.8v6.4h2.7v13h2.7v-8.9h2.8v2.8h2.8v12.9h2.7v-12.4h2.7v-3.7h2.8v-1.1h2.8v22.9h2.7v-12.4h2.7v-.8h2.8v7.4h2.8v3.4h2.7v4.3h2.7v6.4h2.8v1.4h2.8v9.8h2.7v9.7h2.7v-22.5h2.8v6.3h2.8v23.5h2.7v-17.5h2.7v16.6h2.8v11.4h2.8v6.8h2.7v-5.3h2.7v7.3h2.8v-6.5h2.8v3.1h2.7v7.7h2.7v.5h2.8v9.1h2.8v7.6h2.7v-8.1h2.7v-6.8h2.8v24.5h2.8v-4.5h2.7v-6.3h2.7v18.3h2.8v-7.3h2.8v3.6h2.7v-.2h2.7v3.9h2.8v15.4h2.8v-5.5h2.7v7.1h2.7v6.7h2.8v-4h2.8v-1.1h2.7v-7.7h2.7v.9h2.8v1.7h2.8v-.8h2.7v-16.8h2.7v.5h2.8v-6.1h2.8v16.3h2.7v-8.8h2.7v-27.7h2.8v19h2.8v-12.6h2.7v-8.9h2.7v1.9h2.8v-10.5h2.8v-17.2h2.7v-4.5h2.7v-6h2.8v-10.3h2.8v.3h2.7v-8.7h2.7v-8.1h2.8v-9.5h2.8v-6.3h2.7v-15.5h2.7v-10.2h2.8v7.1h2.8v-25.4h2.7v9.5h2.7v5.8h2.8v-13h2.8v-9.8h2.7v-2.1h2.7v-1.6h2.8v-4h2.8v-3.2h2.7v8h2.7v-.1h2.8v-16.3h2.8v9.6h2.7v-10.4h2.7v11.9h2.8v.6h2.8v7.5h2.7v-1.1h2.7v.8h2.8v-7.8h2.8v-2.5h2.7v11.1h2.7v-6.8h2.8v1.8h2.8v8.3h2.7v19h2.7v5.5h2.8v1.9h2.8v-2.9h2.7v14.3h2.7v7.6h2.8v7.4h2.8v-10.2h2.7v2.6h2.7v13.5h2.8v8.5h2.8v7.6h2.7v-9.4h2.7v19.8h2.8v11.2h2.8v0h2.7v12.4h2.7v-1h2.8v-.8h2.8v2.2h2.7v4h2.7v13.8h2.8v10.2h2.8v-16.9h2.7v15.7h2.7v7.3h2.8v-2.7h2.8v14h2.7v7.6h2.7v-8.9h2.8v17.4h2.8v-1.8h2.7v14.5h2.7v1.5h2.8v-5.9h2.8v12.9h2.7v10.2h2.7v-4.6h2.8v2.7h2.8v5.8h2.7v-3h2.7v10.1h2.8v-.6h2.8v7.2h2.7v8h2.7v1.1h2.8v13.9h2.8v-11h2.7v-.5h2.7v18.9h2.8v-6.1h2.8v15.7h2.7v-13.2h2.7v15.4h2.8v-.8h2.8v14.5h2.7v-10.3h2.7v8.9h2.8v3.7h2.8v11.3h2.7v-6.8h2.7v1.8h2.8v-.1h2.8v10.8h2.7v-6.1h2.7v19h2.8v-16.6h2.8v2h2.7v8.5h2.7v5.4h2.8v3.9h2.8v5.8h2.7v-6.7h2.7v12.1h2.8v-1h2.8v8.3h2.7v-3.1h2.7v8h2.8v17.6h2.8v-5.2h2.7v-13.6h2.7v16h2.8v-5.8h2.8v6.9h2.7v6.7h2.7v1.5h2.8v-7.4h2.8v12.3h2.7v2.8h2.7v4.7h2.8v-8.3h2.8v12h2.7v-9.6h2.7v7.6h2.8v.4h2.8v10.6h2.7v-12.8h2.7v8.6h2.8v9.5h2.8v-.7h2.7v8.5h2.7v-4.9h2.8v-8.2h2.8v2.9h2.7v5.5h2.7v7.5h2.8v2.4h2.8v-2.6h2.7v3.7h2.7v13.5h2.8v4.4h2.8v-.7h2.7v-13.8h2.7v.5h2.8v6.9h2.8v3.2h2.7v9.7h2.7v11.6h2.8v-4.8h2.8v5.8h2.7v.5h2.7v.6h2.8v-1.8h2.8v-2.5h2.7v2.1h2.7v-2.4h2.8v5.1h2.8v10.9h2.7v6.6h2.7v-8.8h2.8v3.2h2.8v7.8h2.7v-13.2h2.7v.1h2.8v14.5h2.8v3.9h2.7v-2.6h2.7v5.1h2.8v-3.5h2.8v7.3h2.7v-2.6h2.7v-3.2h2.8v5.1h2.8v8.3h2.7v-6.9h2.7v-4.3h2.8v16h2.8v-4.5h2.7v-3.8h2.7v14.5h2.8v4.7h2.8v-.3h2.7v3.4h2.7v-6h2.8v1.6h2.8v10.2h2.7v4.5h2.7v-8.3h2.8v-1.7h2.8v17.6h2.7v-3.2h2.7v-1.8h2.8v-5.6h2.8v6.1h2.7v-1.7h2.7v-3.7h2.8v6.6h2.8v3.9h2.7v1.1h2.7v-1.8h2.8v5.7h2.8v.1h2.7v13.4h2.7v-1h2.8v-6.5h2.8v-3.3h2.7v2.3h2.7v3.9h2.8v1.2h2.8v5.9h2.7v-6.7h2.7v-5h2.8v17.9h2.8v-3.3h2.7v-1.6h2.7v11.2h2.8v-7.7h2.8v-4.9h2.7v5.2h2.7v4.1h2.8v-.5h2.8v3.8h2.7v1.2h2.7v.9h2.8v3.4h2.8v-2.7h2.7v4.1h2.7v-5.8h2.8v1.2h2.8v4.9h2.7v0h2.7v-3.8h2.8v5.6h2.8v5.4h2.7v-.7h2.7v-.3h2.8v-1.6h2.8v.9h2.7v-5h2.7v4.2h2.8v.9h2.8v-5h2.7v3.8h2.7v8.9h2.8v-.6h2.8v-1.9h2.7v-1.1h2.7v-3.6h2.8v9.5h2.8v-2.4h2.7v1h2.7v3.1h2.8v-3.2h2.8v.6h2.7v3.8h2.7v-2.5h2.8v1.7h2.8v5.6h2.7v.7h2.7v-3.8h2.8v-1.1h2.8v6h2.7v1.7h2.7v2.6h2.8v-1h2.8v-4.2h2.7v5.7h2.7v2.1h2.8v-4.5h2.8v4h2.7v-2h2.7v-2.7h2.8v9.4h2.8v-7.5h2.7v.2h2.7v-2.5h2.8v12.7h2.8v-10.5h2.7v-2.2h2.7v8.4h2.8v-.8h2.8v.4h2.7v4.1h2.7v-1.3h2.8v-2.2h2.8v.6h2.7v10.6h2.7v-5.4h2.8v-2.8h2.8v-2.5h2.7v8.6h2.7v-8.2h2.8v11.1h2.8v-5h2.7v-1.6h2.7v6.2h2.8v-.5h2.8v-2h2.7v3.9h2.7v-7.2h2.8v9.6h2.8v.4h2.7v-2.1h2.7v.2h2.8v-4.6h2.8v-1h2.7v2.4h2.7v3.5h2.8v4.7h2.8v-1.9h2.7v-2h2.7v6.1h2.8v-1.3h2.8v1.1h2.7v-5.2h2.7v2.4h2.8v-1.1h2.8v4.7h2.7v1.7h2.7v.8h2.8v-.9h2.8v-.9h2.7v.4h2.7v-3.3h2.8v.9h2.8v7.2h2.7v-1.2h2.7v-4.8h2.8v.3h2.8v8.3h2.7v-5.8h2.7v1.1h2.8v2.7h2.8v-3.3h2.7v-.1h2.7v.6h2.8v5.3h2.8v-7.7h2.7v-.3h2.7v-.3h2.8v9.9h2.8v-4.1h2.7v.9h2.7v-7.4h2.8v.3h2.8v5.8h2.7v2.7h2.7v-7.6h2.8v6.6h2.8v-5.9h2.7v2.7h2.7v4.4h2.8v3.1h2.8v-8.3h2.7v3.6h2.7v2.1h2.8v5.3h2.8v-8h2.7v5.4h2.7v-2.5h2.8v-.3h2.8v.5h2.7v.1h2.7v.9h2.8v4.4h2.8v-4.8h2.7v-1.1h2.7v6.1h2.8v-1h2.8v-4.3h2.7v7.6h2.7v-6.4h2.8v-.1h2.8v4.3h2.7v-3.3h2.7v-3h2.8v7.5h2.8v2.8h2.7v-3.2h2.7v.3h2.8v.8h2.8v1h2.7v1.8h2.7v-1.1h2.8v-1h2.8v3.4h2.7v-2.8h2.7v-5.7h2.8v7.9h2.8v-4.9h2.7v-.6h2.7v2.9h2.8v.3h2.8v6.8h2.7v-3.2h2.7v-.9h2.8v2.2h2.8v.5h2.7v-.9h2.7v-.3h2.8v5.7h2.8v-6.7h2.7v4.3h2.7v-8h2.8v7.2h2.8v.7h2.7v-2.3h2.7v-3.2h2.8v7.3h2.8v-3h2.7v-2h2.7v3.8h2.8v-1.3h2.8v2.3h2.7v2.3h2.7v-2.4h2.8v.3h2.8v1.2h2.7v-4.5h2.7v.3h2.8v1h2.8v4.3h2.7v-5.1h2.7v3.7h2.8v-5.2h2.8v7.8h2.7v.6h2.7v1.5h2.8v-8.4h2.8v7.4h2.7v-6.2h2.7v1.4h2.8v4.7h2.8v6.2h2.7v-8.5h2.7v1.5h2.8v3.8h2.8v.8h2.7v-3.3h2.7v-2.5h2.8v7.2h2.8v-4.5h2.7v1.5h2.7v2.4h2.8v-1.2h2.8v-1.9h2.7v2.6h2.7v-1.8h2.8v1.5h2.8v1.8h2.7v2.1h2.7v17.4h-2.7v1.4h-2.7v2.3h-2.8v1.1h-2.8v-1.8h-2.7v-3h-2.7v-.6h-2.8v-3.5h-2.8v3.3h-2.7v.7h-2.7v-2.8h-2.8v.4h-2.8v4.4h-2.7v-4.6h-2.7v.8h-2.8v-.7h-2.8v.3h-2.7v3.5h-2.7v-1.2h-2.8v0h-2.8v-1.9h-2.7v1.7h-2.7v-5.1h-2.8v-2.2h-2.8v3h-2.7v-1.1h-2.7v5.5h-2.8v-1.2h-2.8v1.1h-2.7v-5.9h-2.7v-2h-2.8v1.7h-2.8v.3h-2.7v-1.4h-2.7v-.3h-2.8v2.4h-2.8v.3h-2.7v-5.9h-2.7v-.7h-2.8v.4h-2.8v-1.5h-2.7v7.1h-2.7v-2.2h-2.8v-3.9h-2.8v8.6h-2.7v-1.8h-2.7v-.8h-2.8v-4.7h-2.8v3.2h-2.7v-4.8h-2.7v5.6h-2.8v-5.1h-2.8v3.3h-2.7v.8h-2.7v1.4h-2.8v-5.8h-2.8v1.8h-2.7v.2h-2.7v3.7h-2.8v-5.8h-2.8v5.1h-2.7v-6.5h-2.7v.9h-2.8v3.4h-2.8v-7.4h-2.7v1.1h-2.7v-.8h-2.8v3.4h-2.8v0h-2.7v-.7h-2.7v2.3h-2.8v1.6h-2.8v-1.5h-2.7v-4.7h-2.7v.5h-2.8v-1h-2.8v-1h-2.7v-2.5h-2.7v8.3h-2.8v-7.8h-2.8v6.5h-2.7v-6.7h-2.7v3.1h-2.8v-6.4h-2.8v5.6h-2.7v-6.4h-2.7v5.9h-2.8v-2.6h-2.8v.6h-2.7v-.2h-2.7v-.6h-2.8v.3h-2.8v-1.5h-2.7v-1.7h-2.7v2.6h-2.8v2.8h-2.8v-9.2h-2.7v5.6h-2.7v-.3h-2.8v-4.4h-2.8v-3.8h-2.7v10.8h-2.7v.4h-2.8v-4.3h-2.8v3.2h-2.7v-8.3h-2.7v2.7h-2.8v2.2h-2.8v-3.9h-2.7v-3.3h-2.7v7h-2.8v1.8h-2.8v-8.3h-2.7v7.4h-2.7v-5.7h-2.8v1h-2.8v3.4h-2.7v2.3h-2.7v-5.8h-2.8v4h-2.8v-3.5h-2.7v.3h-2.7v-2.6h-2.8v-4.8h-2.8v3.9h-2.7v4.2h-2.7v.4h-2.8v-.6h-2.8v-7.4h-2.7v4.4h-2.7v-.8h-2.8v-4.9h-2.8v5.6h-2.7v-5.2h-2.7v3.3h-2.8v1.9h-2.8v-3.3h-2.7v-1.7h-2.7v1.7h-2.8v-2h-2.8v-1.4h-2.7v-3.9h-2.7v4.5h-2.8v-4.1h-2.8v2h-2.7v-3.7h-2.7v3.1h-2.8v-6.3h-2.8v.9h-2.7v9.6h-2.7v-4h-2.8v1.4h-2.8v-5h-2.7v0h-2.7v-2.1h-2.8v2h-2.8v.8h-2.7v-4.9h-2.7v4.4h-2.8v-3h-2.8v-.8h-2.7v-1.5h-2.7v-2.2h-2.8v-1.9h-2.8v1.7h-2.7v-5h-2.7v3.2h-2.8v.1h-2.8v6.3h-2.7v-7.7h-2.7v1.2h-2.8v.5h-2.8v-3.9h-2.7v2.3h-2.7v3.1h-2.8v-9.6h-2.8v-.2h-2.7v2.3h-2.7v-1.3h-2.8v-.7h-2.8v2.7h-2.7v-.4h-2.7v-4.4h-2.8v5.5h-2.8v-3.4h-2.7v-6.1h-2.7v1.2h-2.8v-.7h-2.8v1.6h-2.7v.9h-2.7v-.1h-2.8v2.3h-2.8v-9.8h-2.7v-2.9h-2.7v8.6h-2.8v.6h-2.8v-4.4h-2.7v-1.8h-2.7v2.1h-2.8v-9.7h-2.8v6.1h-2.7v-6.2h-2.7v4.4h-2.8v-.2h-2.8v3.1h-2.7v-4.7h-2.7v-10.5h-2.8v5.7h-2.8v-5h-2.7v8.2h-2.7v-8.2h-2.8v3.1h-2.8v1h-2.7v-1.5h-2.7v-3.9h-2.8v-2h-2.8v7.9h-2.7v-4.7h-2.7v-2.2h-2.8v4h-2.8v2.6h-2.7v-4.1h-2.7v-4.1h-2.8v9.2h-2.8v-6.4h-2.7v-1.9h-2.7v-1.5h-2.8v-5.3h-2.8v6.3h-2.7v-.8h-2.7v-10.3h-2.8v-3.4h-2.8v5.8h-2.7v1.8h-2.7v1.2h-2.8v-7.1h-2.8v7.8h-2.7v-7.1h-2.7v1.2h-2.8v-5.7h-2.8v1.6h-2.7v-4.3h-2.7v-4.2h-2.8v2.4h-2.8v3.9h-2.7v-3.3h-2.7v6.2h-2.8v-13.4h-2.8v-1.7h-2.7v6.2h-2.7v1.5h-2.8v-7.3h-2.8v2.9h-2.7v-7.4h-2.7v-7.2h-2.8v8.4h-2.8v-2.6h-2.7v-3.2h-2.7v4.3h-2.8v.8h-2.8v-6.2h-2.7v10.2h-2.7v-9.2h-2.8v7.3h-2.8v-10.3h-2.7v-4.5h-2.7v-2.1h-2.8v-5.1h-2.8v-2.1h-2.7v-.2h-2.7v-2.3h-2.8v-1.3h-2.8v1.7h-2.7v2.6h-2.7v-4.5h-2.8v-6h-2.8v8.2h-2.7v-10.8h-2.7v7.9h-2.8v-8.1h-2.8v-10.6h-2.7v-5.4h-2.7v7.9h-2.8v1.9h-2.8v1h-2.7v.7h-2.7v-15.8h-2.8v10.4h-2.8v-10.3h-2.7v2.7h-2.7v-1.7h-2.8v4.1h-2.8v-1.8h-2.7v-10.4h-2.7v-5.7h-2.8v11.8h-2.8v-7h-2.7v-15.5h-2.7v20.8h-2.8v-2h-2.8v-3h-2.7v-.2h-2.7v-14.9h-2.8v2.3h-2.8v-6.8h-2.7v-4.7h-2.7v-.3h-2.8v-7.8h-2.8v-.7h-2.7v3h-2.7v-19.1h-2.8v9.4h-2.8v2.3h-2.7v-7.8h-2.7v-.8h-2.8v7.9h-2.8v-3.9h-2.7v-8.4h-2.7v0h-2.8v-8.2h-2.8v10.1h-2.7v2.2h-2.7v-16.9h-2.8v7.4h-2.8v-7.6h-2.7v-1.2h-2.7v-8.1h-2.8v7h-2.8v-6.3h-2.7v-4.7h-2.7v4.6h-2.8v3.5h-2.8v-3.2h-2.7v-7.3h-2.7v-8.2h-2.8v-.6h-2.8v-1.6h-2.7v.3h-2.7v-12.9h-2.8v10.8h-2.8v-.9h-2.7v-16.7h-2.7v7h-2.8v-14h-2.8v4.5h-2.7v4.7h-2.7v-12.2h-2.8v1h-2.8v-18.3h-2.7v9.9h-2.7v-8.8h-2.8v-1.9h-2.8v-14.5h-2.7v6.2h-2.7v8.3h-2.8v-1h-2.8v-18.1h-2.7v1.5h-2.7v-1.9h-2.8v-6.1h-2.8v-5.5h-2.7v3.6h-2.7v-7.4h-2.8v4.4h-2.8v-17.4h-2.7v2.2h-2.7v-1.4h-2.8v6.4h-2.8v-11.1h-2.7v5.7h-2.7v-8.7h-2.8v-10.3h-2.8v-11.2h-2.7v11.1h-2.7v-15.4h-2.8v-4.1h-2.8v12.8h-2.7v-21.8h-2.7v5.8h-2.8v-12.6h-2.8v1.2h-2.7v-11.5h-2.7v14.9h-2.8v-6.5h-2.8v-13.2h-2.7v-3.9h-2.7v-6.4h-2.8v-7.8h-2.8v5.4h-2.7v-4.8h-2.7v-8.8h-2.8v-5.1h-2.8v-5.6h-2.7v-4.2h-2.7v.1h-2.8v-5h-2.8v-8.5h-2.7v-14.1h-2.7v5.8h-2.8v.7h-2.8v-5.5h-2.7v-13h-2.7v5.6h-2.8v-12.5h-2.8v4.4h-2.7v-13.8h-2.7v-5.7h-2.8v4h-2.8v1.2h-2.7v-16.1h-2.7v-9.9h-2.8v-9.5h-2.8v-.2h-2.7v-4.1h-2.7v-2.7h-2.8v-18.5h-2.8v.2h-2.7v1.6h-2.7v-5h-2.8v-9.3h-2.8v-1.3h-2.7v-14.8h-2.7v11.2h-2.8v-9.6h-2.8v-3.3h-2.7v1.8h-2.7v-11.6h-2.8v-7.5h-2.8v9.6h-2.7v-14.1h-2.7v4.3h-2.8v12.2h-2.8v-8.5h-2.7v9.4h-2.7v-5.9h-2.8v2.5h-2.8v-4.5h-2.7v-2.9h-2.7v-5.8h-2.8v13.4h-2.8v-2.2h-2.7v-4.2h-2.7v7.4h-2.8v17.4h-2.8v5.2h-2.7v2.2h-2.7v.3h-2.8v3.6h-2.8v6.6h-2.7v21.4h-2.7v6.2h-2.8v-4h-2.8v10.5h-2.7v8.2h-2.7v11.8h-2.8v17.2h-2.8v-11.4h-2.7v15.3h-2.7v1h-2.8v3.7h-2.8v6.2h-2.7v21h-2.7v-2.4h-2.8v17.4h-2.8v2.1h-2.7v1.3h-2.7v2.4h-2.8v.2h-2.8v16.5h-2.7v-7.5h-2.7v2h-2.8v-.9h-2.8v4.9h-2.7v1.3h-2.7v-.2h-2.8v1.5h-2.8v-7.1h-2.7v3.3h-2.7v8.2h-2.8v-12.6h-2.8v.3h-2.7v-10.6h-2.7v-10h-2.8v15h-2.8v-8.8h-2.7v-4h-2.7v-5.9h-2.8v-4.8h-2.8v-.3h-2.7v-.6h-2.7v-8.9h-2.8v-11.2h-2.8v7h-2.7v-.9h-2.7v-3.6h-2.8v-4.3h-2.8v1.9h-2.7v-.9h-2.7v-15.2h-2.8v-7.2h-2.8v1.5h-2.7v-.4h-2.7v-10.2h-2.8v4.6h-2.8v6.8h-2.7v-14.2h-2.7v-13.6h-2.8v-3.7h-2.8v1.9h-2.7v-.2h-2.7v-7.1h-2.8v5h-2.8v-2.7h-2.7v1.1h-2.7v-15.3h-2.8v7.3h-2.8v.9h-2.7v-5.3h-2.7v3.2h-2.8v-6h-2.8v.2h-2.7v-22.2h-2.7v2.7h-2.8v.2h-2.8v-9h-2.7v9.4h-2.7v-4.7h-2.8z" fill="#0000ff"/>
<path d="M429 374.4h2.8v-12.2h2.7v-3.1h2.7v17.8h2.8v-11h2.8v.4h2.7v11.5h2.7v1.9h2.8v-2.7h2.8v12.1h2.7v-5.5h2.7v14.5h2.8v-4h2.8v.3h2.7v6.2h2.7v-4.1h2.8v10.5h2.8v-10.7h2.7v3h2.7v3.3h2.8v19.7h2.8v-9h2.7v6.9h2.7v8.2h2.8v14.3h2.8v-12.3h2.7v6.7h2.7v5.9h2.8v3.6h2.8v-6.5h2.7v15.2h2.7v.7h2.8v12.5h2.8v-10.3h2.7v8.6h2.7v4.6h2.8v16.1h2.8v7.2h2.7v-11.5h2.7v13.8h2.8v-11.1h2.8v7.7h2.7v4.5h2.7v8.4h2.8v7.1h2.8v-9.9h2.7v21h2.7v.2h2.8v-10.9h2.8v1.3h2.7v7.1h2.7v4.7h2.8v-6.5h2.8v4.3h2.7v-6.6h2.7v2.9h2.8v5.6h2.8v3.5h2.7v-16.9h2.7v17.3h2.8v-10.4h2.8v-5.4h2.7v-7.8h2.7v6.3h2.8v-7.7h2.8v-3.3h2.7v-.4h2.7v-.7h2.8v-15h2.8v-14h2.7v6.1h2.7v-12.5h2.8v.2h2.8v-6.1h2.7v-16.7h2.7v5.8h2.8v.8h2.8v-20.7h2.7v0h2.7v-8h2.8v-8.4h2.8v-6.7h2.7v-8.9h2.7v.6h2.8v-7.4h2.8v-13.7h2.7v6h2.7v-11.8h2.8v-4.8h2.8v10.7h2.7v-9.6h2.7v4.9h2.8v6.6h2.8v-14.1h2.7v6.8h2.7v-3.1h2.8v-4.2h2.8v-6.6h2.7v6.1h2.7v13.8h2.8v-19.1h2.8v12.1h2.7v.8h2.7v3.9h2.8v-1.6h2.8v2.9h2.7v1.1h2.7v-1.1h2.8v9.1h2.8v1.5h2.7v8h2.7v-10.8h2.8v13.7h2.8v-6.4h2.7v.1h2.7v13.2h2.8v1h2.8v6.4h2.7v13.7h2.7v-12.5h2.8v2.4h2.8v12.6h2.7v8h2.7v-3.3h2.8v17.5h2.8v-4.7h2.7v11h2.7v2.1h2.8v6.4h2.8v-.8h2.7v-6.5h2.7v15.8h2.8v5.4h2.8v2.6h2.7v-5.7h2.7v8.6h2.8v3.1h2.8v4.5h2.7v11.5h2.7v8.2h2.8v-6.7h2.8v2.9h2.7v9.3h2.7v3.4h2.8v1.8h2.8v1.3h2.7v6.6h2.7v5.5h2.8v6.3h2.8v-14.9h2.7v1.5h2.7v17.9h2.8v-7.3h2.8v.7h2.7v11.6h2.7v9.2h2.8v-3.9h2.8v12.5h2.7v-2.4h2.7v-1.6h2.8v4.7h2.8v20.1h2.7v-11.6h2.7v10.1h2.8v-.5h2.8v11.6h2.7v6.6h2.7v-13.5h2.8v3.9h2.8v15h2.7v6.1h2.7v4.3h2.8v1.2h2.8v-4.2h2.7v-.1h2.7v14.2h2.8v1.4h2.8v2.3h2.7v-5.6h2.7v6h2.8v-.2h2.8v6h2.7v11.8h2.7v2.4h2.8v1.5h2.8v1.6h2.7v5.3h2.7v-1.8h2.8v10.3h2.8v-12.1h2.7v10.9h2.7v6.5h2.8v-.7h2.8v10h2.7v-.6h2.7v4.1h2.8v11.2h2.8v-3.9h2.7v-9.7h2.7v18h2.8v-9.2h2.8v16.7h2.7v-4.7h2.7v2.8h2.8v3h2.8v4.7h2.7v9.5h2.7v-14.6h2.8v-3.9h2.8v16.2h2.7v1.2h2.7v-1.8h2.8v2.4h2.8v7.3h2.7v-2.3h2.7v.2h2.8v-3.4h2.8v16.3h2.7v-2.3h2.7v-2.2h2.8v8.4h2.8v-10h2.7v12.4h2.7v-1.9h2.8v1.2h2.8v1.3h2.7v-1h2.7v.5h2.8v1.6h2.8v13.9h2.7v-14h2.7v10.7h2.8v2.4h2.8v6.6h2.7v-8.9h2.7v7h2.8v8.7h2.8v-.4h2.7v-1.1h2.7v.5h2.8v5.4h2.8v13.3h2.7v-5.2h2.7v4.5h2.8v-1.2h2.8v1.9h2.7v-14.7h2.7v18.5h2.8v-5.3h2.8v8.5h2.7v-2.6h2.7v7.8h2.8v-12.2h2.8v4.3h2.7v11.4h2.7v-13.5h2.8v14.3h2.8v4.5h2.7v-6.4h2.7v5.6h2.8v6.5h2.8v-8.8h2.7v11.6h2.7v4.5h2.8v-5.9h2.8v10.7h2.7v-14.8h2.7v15.4h2.8v-3h2.8v3.2h2.7v2.7h2.7v7.1h2.8v-.9h2.8v-1.4h2.7v-6.9h2.7v.2h2.8v5.3h2.8v4.1h2.7v8.7h2.7v-1h2.8v-4.3h2.8v4.8h2.7v.5h2.7v1.2h2.8v-2h2.8v-2.5h2.7v3.8h2.7v-5.6h2.8v14h2.8v-1.3h2.7v-3.9h2.7v4.7h2.8v-2h2.8v-2.1h2.7v5.7h2.7v3.6h2.8v-11.5h2.8v13.2h2.7v-3.5h2.7v8.6h2.8v-1.7h2.8v4h2.7v-2.6h2.7v8h2.8v-15.9h2.8v14.3h2.7v-8h2.7v6.9h2.8v4.2h2.8v-8.2h2.7v3.4h2.7v7.2h2.8v-3.3h2.8v3.5h2.7v-1.2h2.7v-4.1h2.8v1.7h2.8v9.7h2.7v-11.1h2.7v6.7h2.8v-2.7h2.8v.1h2.7v2.1h2.7v1h2.8v-.2h2.8v6.5h2.7v-7.4h2.7v3.3h2.8v0h2.8v9.7h2.7v-7.1h2.7v-1.4h2.8v1.2h2.8v7.2h2.7v.5h2.7v-1.2h2.8v2.5h2.8v-4.2h2.7v.4h2.7v5.2h2.8v-5.3h2.8v-1.2h2.7v11.7h2.7v-6.5h2.8v-1.8h2.8v7.7h2.7v1.8h2.7v-.1h2.8v-1.1h2.8v2.9h2.7v-1.9h2.7v3.5h2.8v-8.2h2.8v3.1h2.7v3.3h2.7v-6.3h2.8v4.5h2.8v3.3h2.7v-4.2h2.7v1.9h2.8v.9h2.8v3h2.7v-1h2.7v-1h2.8v-.1h2.8v8.1h2.7v-3.1h2.7v-4.1h2.8v5.2h2.8v3.7h2.7v-6.9h2.7v8.6h2.8v-4.1h2.8v-4.8h2.7v7.2h2.7v-3.6h2.8v5.9h2.8v-1.3h2.7v.5h2.7v-1.4h2.8v2.6h2.8v3.1h2.7v.1h2.7v-2h2.8v3h2.8v-6.7h2.7v4.2h2.7v-6.5h2.8v6.2h2.8v-.2h2.7v2.6h2.7v-2.6h2.8v4.9h2.8v2.7h2.7v-2.3h2.7v-1.8h2.8v2.3h2.8v-2h2.7v.5h2.7v.9h2.8v3.8h2.8v-4.3h2.7v4.4h2.7v-3.9h2.8v3.1h2.8v-1.6h2.7v-4.5h2.7v8.2h2.8v-.5h2.8v4h2.7v-4h2.7v-.3h2.8v3h2.8v2.5h2.7v-1.4h2.7v3.5h2.8v-4.3h2.8v-4.6h2.7v2.8h2.7v8.2h2.8v-8.2h2.8v7.2h2.7v-2.9h2.7v.5h2.8v.6h2.8v1.5h2.7v2.7h2.7v-4.3h2.8v1.3h2.8v-3.4h2.7v-2.6h2.7v.3h2.8v9.6h2.8v2.1h2.7v4.8h2.7v-7.2h2.8v1.7h2.8v-2.1h2.7v2.6h2.7v-.3h2.8v6.6h2.8v-5.5h2.7v.6h2.7v-1.5h2.8v2.5h2.8v-7h2.7v1.6h2.7v-2.8h2.8v5.1h2.8v6.6h2.7v-3.6h2.7v.7h2.8v-4.4h2.8v6h2.7v-5h2.7v1.9h2.8v-1.5h2.8v2.5h2.7v1.7h2.7v3.4h2.8v-6h2.8v2.4h2.7v7.2h2.7v-2.6h2.8v-3.3h2.8v-3.4h2.7v2.1h2.7v1.3h2.8v.4h2.8v-4.9h2.7v4.4h2.7v-.1h2.8v-1.1h2.8v6.5h2.7v-3.8h2.7v1.6h2.8v3.1h2.8v-5.1h2.7v5.9h2.7v-8.1h2.8v0h2.8v4.2h2.7v7.3h2.7v-3.6h2.8v-3.6h2.8v-1.8h2.7v1.9h2.7v2.8h2.8v2h2.8v-3.1h2.7v1.1h2.7v-3.5h2.8v2h2.8v8.9h2.7v.3h2.7v-2.4h2.8v3.6h2.8v-4h2.7v-3.8h2.7v-1h2.8v7.3h2.8v-1.3h2.7v-5h2.7v7h2.8v-4.3h2.8v1.8h2.7v2.4h2.7v-1.3h2.8v2.3h2.8v-.9h2.7v-3.2h2.7v5h2.8v-1.3h2.8v2.5h2.7v5h2.7v-4.2h2.8v-7.2h2.8v5.1h2.7v-1.8h2.7v-2.2h2.8v5.6h2.8v-.9h2.7v-2.9h2.7v4h2.8v3.5h2.8v-.9h2.7v3.7h2.7v17.5h-2.7v6.1h-2.7v-1.8h-2.8v1.4h-2.8v-5.9h-2.7v-1.4h-2.7v6.5h-2.8v-5.5h-2.8v-.5h-2.7v-.3h-2.7v-2.9h-2.8v-.5h-2.8v1.9h-2.7v6.1h-2.7v-6.7h-2.8v3.3h-2.8v-1.1h-2.7v2.1h-2.7v-8.7h-2.8v1.6h-2.8v-2h-2.7v6.5h-2.7v-4.4h-2.8v2.3h-2.8v3.1h-2.7v-7h-2.7v-1.1h-2.8v.9h-2.8v1.8h-2.7v-1h-2.7v.9h-2.8v-1.3h-2.8v1.2h-2.7v-.3h-2.7v2.9h-2.8v-4.7h-2.8v-1.8h-2.7v.5h-2.7v-6.5h-2.8v7.9h-2.8v-4.5h-2.7v2.6h-2.7v3.7h-2.8v-5.5h-2.8v0h-2.7v.9h-2.7v-3h-2.8v-2.6h-2.8v8.4h-2.7v-6.2h-2.7v4.8h-2.8v-2.2h-2.8v-6.8h-2.7v3.6h-2.7v1.8h-2.8v3h-2.8v-3.2h-2.7v-5.5h-2.7v9.7h-2.8v-5h-2.8v4.5h-2.7v-9.6h-2.7v-.5h-2.8v3h-2.8v-3.7h-2.7v7.9h-2.7v-8.1h-2.8v1.6h-2.8v4.9h-2.7v-5.2h-2.7v-3.9h-2.8v4.5h-2.8v3.4h-2.7v-4.1h-2.7v2.6h-2.8v-1.3h-2.8v-1.9h-2.7v-2.7h-2.7v1.1h-2.8v1.6h-2.8v3.2h-2.7v-4.9h-2.7v-1.2h-2.8v-2.1h-2.8v3.2h-2.7v-1.7h-2.7v.8h-2.8v-.5h-2.8v-.4h-2.7v-.7h-2.7v3.7h-2.8v2.4h-2.8v-4.5h-2.7v-2.9h-2.7v1.8h-2.8v-.2h-2.8v.4h-2.7v-3.6h-2.7v4h-2.8v-3.6h-2.8v3.9h-2.7v-.8h-2.7v-4.8h-2.8v-2.4h-2.8v1.3h-2.7v1.1h-2.7v-.3h-2.8v-3.8h-2.8v-1.1h-2.7v-3h-2.7v8.6h-2.8v-8.5h-2.8v2.4h-2.7v.1h-2.7v0h-2.8v-.3h-2.8v-3.9h-2.7v4.1h-2.7v-6.9h-2.8v4.5h-2.8v5.4h-2.7v-7.5h-2.7v2.4h-2.8v5.4h-2.8v-7.2h-2.7v-2.1h-2.7v2.6h-2.8v.4h-2.8v2.2h-2.7v3.4h-2.7v-3.5h-2.8v0h-2.8v-2.6h-2.7v1.7h-2.7v-6.5h-2.8v5.6h-2.8v-12.6h-2.7v-2.1h-2.7v12.2h-2.8v-1.2h-2.8v-1.1h-2.7v2.6h-2.7v2.4h-2.8v-2.1h-2.8v-6h-2.7v-.7h-2.7v-1.8h-2.8v1.6h-2.8v2.4h-2.7v-1.2h-2.7v-3h-2.8v-7.6h-2.8v12h-2.7v-5h-2.7v5.8h-2.8v-5.6h-2.8v2.3h-2.7v-5.2h-2.7v3.5h-2.8v.1h-2.8v-5.9h-2.7v3.7h-2.7v-1.9h-2.8v4.1h-2.8v-10.5h-2.7v5.4h-2.7v-6.7h-2.8v-.6h-2.8v6.2h-2.7v.8h-2.7v-4.2h-2.8v-4.6h-2.8v8.1h-2.7v-6.8h-2.7v-2.9h-2.8v8.2h-2.8v-6.3h-2.7v-2.2h-2.7v6h-2.8v-6.8h-2.8v7.7h-2.7v-8h-2.7v3h-2.8v-3.7h-2.8v7.8h-2.7v-6.7h-2.7v-6h-2.8v3.6h-2.8v-7.2h-2.7v.1h-2.7v6h-2.8v2.9h-2.8v-6.4h-2.7v.4h-2.7v2.5h-2.8v-3.2h-2.8v2.3h-2.7v-.9h-2.7v-4.4h-2.8v.1h-2.8v.9h-2.7v.9h-2.7v-5h-2.8v6.4h-2.8v-2.3h-2.7v-4.6h-2.7v-3.1h-2.8v2.4h-2.8v-4.4h-2.7v10.1h-2.7v-.8h-2.8v-7h-2.8v-4.4h-2.7v6.5h-2.7v-1.6h-2.8v-5.4h-2.8v.2h-2.7v1h-2.7v-5.6h-2.8v3h-2.8v-7.4h-2.7v9.1h-2.7v-14.7h-2.8v3.2h-2.8v10.9h-2.7v-7.1h-2.7v-4.7h-2.8v4.8h-2.8v-2.8h-2.7v-4.8h-2.7v2.9h-2.8v-3.5h-2.8v-6.5h-2.7v7.4h-2.7v-3.4h-2.8v.5h-2.8v-.4h-2.7v6.1h-2.7v-9.5h-2.8v-6.7h-2.8v3.7h-2.7v1.1h-2.7v1.4h-2.8v-9.4h-2.8v-1.4h-2.7v8.6h-2.7v-12.3h-2.8v9.4h-2.8v1.4h-2.7v-3.9h-2.7v3.3h-2.8v-6.7h-2.8v-.5h-2.7v8.7h-2.7v-2.9h-2.8v-5.3h-2.8v-3.3h-2.7v-1.8h-2.7v-3h-2.8v9h-2.8v-.9h-2.7v-15.2h-2.7v-.8h-2.8v10.3h-2.8v-.7h-2.7v-9.6h-2.7v.4h-2.8v-3.5h-2.8v6.3h-2.7v-8.2h-2.7v-14.8h-2.8v-1.3h-2.8v6.9h-2.7v-.4h-2.7v-1.6h-2.8v-7.3h-2.8v1.4h-2.7v-.4h-2.7v-2h-2.8v-1h-2.8v4.3h-2.7v-3h-2.7v-10.4h-2.8v-2.9h-2.8v-10.7h-2.7v9.8h-2.7v5.4h-2.8v-5.2h-2.8v4.2h-2.7v-11.1h-2.7v3.4h-2.8v-10.5h-2.8v-7.8h-2.7v-.4h-2.7v-1.1h-2.8v4.9h-2.8v-13h-2.7v12.1h-2.7v-10h-2.8v8.3h-2.8v3h-2.7v-15.5h-2.7v-4.9h-2.8v14.2h-2.8v-11.3h-2.7v-11.7h-2.7v12.8h-2.8v-12.9h-2.8v3.5h-2.7v-5.2h-2.7v4.3h-2.8v-11.1h-2.8v4.5h-2.7v7.6h-2.7v-15.2h-2.8v-5h-2.8v5.9h-2.7v-8.2h-2.7v6.4h-2.8v-1.8h-2.8v-4.6h-2.7v-5h-2.7v6.7h-2.8v-2.5h-2.8v-14.2h-2.7v-.8h-2.7v-1.8h-2.8v-5h-2.8v10.5h-2.7v-13.3h-2.7v3.3h-2.8v-7.9h-2.8v7.1h-2.7v-10.9h-2.7v-3.9h-2.8v4.7h-2.8v-2.3h-2.7v-13h-2.7v-1.5h-2.8v5.4h-2.8v-13.7h-2.7v4.2h-2.7v-15.4h-2.8v4h-2.8v3.5h-2.7v-7.9h-2.7v3h-2.8v-21.4h-2.8v7h-2.7v-11.4h-2.7v4.9h-2.8v-6.9h-2.8v7.5h-2.7v2.6h-2.7v-22.9h-2.8v13.3h-2.8v-14.1h-2.7v3.8h-2.7v-12.7h-2.8v-7.5h-2.8v4.1h-2.7v-9h-2.7v-.6h-2.8v-1.1h-2.8v.2h-2.7v-5.1h-2.7v-17.1h-2.8v10.8h-2.8v-12.1h-2.7v-.8h-2.7v-11h-2.8v7.3h-2.8v-13.4h-2.7v15.9h-2.7v-16.8h-2.8v3.3h-2.8v-12h-2.7v12.7h-2.7v-1.5h-2.8v-8.5h-2.8v-12.9h-2.7v9.4h-2.7v-16.4h-2.8v1.2h-2.8v4.8h-2.7v-23.2h-2.7v3.8h-2.8v-.4h-2.8v.3h-2.7v-24.7h-2.7v8.6h-2.8v-8.5h-2.8v-4.6h-2.7v-3h-2.7v14.7h-2.8v-24.6h-2.8v10.4h-2.7v.3h-2.7v-2.6h-2.8v-15.7h-2.8v-3.8h-2.7v-4.6h-2.7v-7.2h-2.8v-6.8h-2.8v10.5h-2.7v2.3h-2.7v-14.6h-2.8v-.7h-2.8v-14.5h-2.7v-6.1h-2.7v-9.6h-2.8v16.3h-2.8v-9.2h-2.7v-15.6h-2.7v-3.2h-2.8v1.1h-2.8v9h-2.7v.5h-2.7v-15.8h-2.8v-8.6h-2.8v14h-2.7v-19.3h-2.7v1h-2.8v-1.5h-2.8v13.1h-2.7v-14.5h-2.7v-3h-2.8v-2.9h-2.8v-.1h-2.7v5.9h-2.7v1.1h-2.8v10.1h-2.8v-22.7h-2.7v5.2h-2.7v3.9h-2.8v5h-2.8v-5.6h-2.7v12.8h-2.7v-4.9h-2.8v6.3h-2.8v.5h-2.7v2.2h-2.7v25.4h-2.8v1.8h-2.8v-9.2h-2.7v12.4h-2.7v2.1h-2.8v8.4h-2.8v-4.3h-2.7v25.2h-2.7v10h-2.8v-13.2h-2.8v9.8h-2.7v12.1h-2.7v9.9h-2.8v-4.9h-2.8v19.9h-2.7v-5.8h-2.7v-3h-2.8v14.4h-2.8v15.3h-2.7v0h-2.7v-2.2h-2.8v-.9h-2.8v8.9h-2.7v-3.1h-2.7v12.8h-2.8v1.2h-2.8v8h-2.7v-8.9h-2.7v12.4h-2.8v.4h-2.8v-18h-2.7v5.4h-2.7v-4.7h-2.8v-3.6h-2.8v5.9h-2.7v1.9h-2.7v-9.6h-2.8v8.4h-2.8v-3.4h-2.7v-13.8h-2.7v10.4h-2.8v-4.9h-2.8v-15.6h-2.7v-3.1h-2.7v-4h-2.8v9.7h-2.8v-4.9h-2.7v-6.5h-2.7v-11.1h-2.8v-1.9h-2.8v5.5h-2.7v-13.9h-2.7v-9.2h-2.8v-.4h-2.8v2.1h-2.7v-6.1h-2.7v-14h-2.8v7.2h-2.8v-17.3h-2.7v11.4h-2.7v.9h-2.8v-12h-2.8v.6h-2.7v-4.3h-2.7v-3.6h-2.8v-9.3h-2.8v-7.3h-2.7v7.5h-2.7v-13.7h-2.8v6.8h-2.8v3.1h-2.7v3.6h-2.7v-14.9h-2.8v-8.5h-2.8v-2.9h-2.7v-3.1h-2.7v13.7h-2.8v1.8h-2.8v-9h-2.7v-14.3h-2.7v-.3h-2.8v1h-2.8v-17.6h-2.7v-3.4h-2.7v6.7h-2.8z" fill="#ff00ff"/>
<path d="M429 187.5h2.8v2.8h2.7v-6h2.7v5.1h2.8v2.6h2.8v13.7h2.7v-2.9h2.7v-5.4h2.8v20.7h2.8v-13.3h2.7v8.2h2.7v15h2.8v8.5h2.8v-.1h2.7v6.3h2.7v-5.3h2.8v8.3h2.8v6.3h2.7v-2.7h2.7v-2.6h2.8v17.2h2.8v6.8h2.7v-2.4h2.7v2.9h2.8v6h2.8v8.8h2.7v-.8h2.7v.9h2.8v14.7h2.8v11.4h2.7v-4.3h2.7v-2.1h2.8v20.9h2.8v-8.2h2.7v28.3h2.7v-14.1h2.8v12.5h2.8v-3h2.7v7.4h2.7v-2.3h2.8v11.6h2.8v7.1h2.7v13.1h2.7v-9.4h2.8v11.5h2.8v5.2h2.7v-5.9h2.7v7.4h2.8v.7h2.8v-8h2.7v23.2h2.7v2.6h2.8v-8.2h2.8v-8.5h2.7v5.3h2.7v4.2h2.8v7h2.8v-5.4h2.7v-4.1h2.7v1.6h2.8v5h2.8v-11.2h2.7v-2.2h2.7v-10.8h2.8v2.8h2.8v-3h2.7v-15.3h2.7v-1.1h2.8v1.3h2.8v-7.3h2.7v-24.2h2.7v-2.6h2.8v9h2.8v-10.8h2.7v-12.8h2.7v-13.2h2.8v-4h2.8v-6.3h2.7v-21.2h2.7v-7.3h2.8v-.1h2.8v-7.7h2.7v-6.6h2.7v-3.4h2.8v-8.2h2.8v-10.5h2.7v3.5h2.7v-16.2h2.8v-.8h2.8v-6.3h2.7v4.7h2.7v-5.2h2.8v-20.8h2.8v8.9h2.7v5.3h2.7v-3.6h2.8v-6.5h2.8v-2.8h2.7v8.1h2.7v-12.6h2.8v11h2.8v-5.1h2.7v-.1h2.7v6.2h2.8v1.5h2.8v12.7h2.7v-5.4h2.7v10.3h2.8v-6.5h2.8v12.3h2.7v-8h2.7v18.3h2.8v1.2h2.8v8.9h2.7v10h2.7v12h2.8v-9.4h2.8v14.6h2.7v4h2.7v15.2h2.8v10.4h2.8v-6.7h2.7v19.9h2.7v-1.9h2.8v6.1h2.8v2.4h2.7v1.2h2.7v11h2.8v-.5h2.8v12.3h2.7v9.6h2.7v10.8h2.8v1.4h2.8v-10.6h2.7v23.4h2.7v-5.8h2.8v11h2.8v-4.5h2.7v4.9h2.7v10.2h2.8v-1.5h2.8v3.5h2.7v5.8h2.7v13.3h2.8v-13.9h2.8v8.4h2.7v3.7h2.7v5.8h2.8v9.3h2.8v3.3h2.7v3.9h2.7v22.3h2.8v-5.5h2.8v-1.3h2.7v3.9h2.7v-5.1h2.8v3.1h2.8v15.3h2.7v-1.4h2.7v6.4h2.8v-9.7h2.8v16.1h2.7v6h2.7v3.5h2.8v-4.8h2.8v8h2.7v7.2h2.7v-7.4h2.8v10.9h2.8v-1.9h2.7v12.5h2.7v7.3h2.8v-10.5h2.8v-.1h2.7v-2.2h2.7v19.1h2.8v-11.4h2.8v15.7h2.7v-1.4h2.7v11.2h2.8v-1.2h2.8v-14h2.7v12.3h2.7v-1.8h2.8v3.3h2.8v6.8h2.7v9.7h2.7v-11.5h2.8v10.5h2.8v2.6h2.7v-14.6h2.7v6.6h2.8v14.6h2.8v.6h2.7v-6.5h2.7v-8.1h2.8v4.5h2.8v10.1h2.7v5.9h2.7v.2h2.8v-3h2.8v11.2h2.7v-14.4h2.7v1.2h2.8v-1h2.8v.1h2.7v6.6h2.7v10h2.8v5.9h2.8v2.3h2.7v-5h2.7v5.7h2.8v6h2.8v7.7h2.7v-.8h2.7v-16.5h2.8v8.3h2.8v9.9h2.7v1.2h2.7v4.3h2.8v-13.4h2.8v11.8h2.7v8.5h2.7v-1.5h2.8v6.5h2.8v1h2.7v-2.7h2.7v-3.5h2.8v6.1h2.8v8.1h2.7v-15.8h2.7v13.5h2.8v9.4h2.8v1.4h2.7v-8.9h2.7v8.6h2.8v-6.7h2.8v5.3h2.7v.2h2.7v2h2.8v17.8h2.8v7.1h2.7v-9.9h2.7v-2.2h2.8v6.3h2.8v0h2.7v-7.4h2.7v8.7h2.8v2.6h2.8v5h2.7v-9h2.7v17.1h2.8v-13h2.8v13.1h2.7v-5.6h2.7v1.6h2.8v6.6h2.8v-4.2h2.7v6.8h2.7v7.9h2.8v-7.6h2.8v15h2.7v.9h2.7v-.3h2.8v-4h2.8v11.2h2.7v-.7h2.7v3.3h2.8v-2.3h2.8v-8.9h2.7v16h2.7v2.5h2.8v-7.7h2.8v11h2.7v-1.2h2.7v-.5h2.8v-2.9h2.8v-4.1h2.7v6.3h2.7v-.5h2.8v9.4h2.8v-2.4h2.7v-.7h2.7v6.7h2.8v.8h2.8v10.7h2.7v-5.3h2.7v1.4h2.8v.6h2.8v-1.4h2.7v-6h2.7v16.5h2.8v-6.9h2.8v4.4h2.7v.7h2.7v-6.7h2.8v-3.6h2.8v.2h2.7v12.9h2.7v-5.5h2.8v-3.3h2.8v8h2.7v7.1h2.7v-1.7h2.8v-1.3h2.8v6.6h2.7v-12.1h2.7v11.3h2.8v-3.9h2.8v6.9h2.7v3.4h2.7v-4.6h2.8v.9h2.8v4.8h2.7v-8.2h2.7v9.4h2.8v-.3h2.8v-1.3h2.7v.1h2.7v-1.9h2.8v.8h2.8v.7h2.7v6.2h2.7v-6.5h2.8v-.9h2.8v5.8h2.7v1.3h2.7v-3h2.8v-2.1h2.8v6.6h2.7v-.1h2.7v.1h2.8v4.9h2.8v.6h2.7v.3h2.7v-3h2.8v2.5h2.8v-.5h2.7v.2h2.7v-4.9h2.8v8.2h2.8v3.1h2.7v-4.1h2.7v-.8h2.8v-6.5h2.8v4.9h2.7v5.2h2.7v-.4h2.8v-1.9h2.8v-5.1h2.7v8.5h2.7v-.6h2.8v-1.7h2.8v5.1h2.7v-4.2h2.7v2.2h2.8v-.8h2.8v.7h2.7v-.2h2.7v5.8h2.8v-2.1h2.8v-.7h2.7v.1h2.7v9.6h2.8v-10.6h2.8v7.3h2.7v-1.5h2.7v-2.4h2.8v1.6h2.8v1.2h2.7v-6.4h2.7v6.8h2.8v2.5h2.8v2.1h2.7v-2.6h2.7v-.3h2.8v3.1h2.8v.4h2.7v-7.7h2.7v-.2h2.8v4h2.8v4.9h2.7v-4.2h2.7v8.4h2.8v-2.2h2.8v-.6h2.7v-3.4h2.7v-2.8h2.8v6.8h2.8v-6.8h2.7v4.7h2.7v3.2h2.8v3.7h2.8v-10.1h2.7v2.3h2.7v-.7h2.8v4.2h2.8v.4h2.7v-1.8h2.7v5.3h2.8v1.6h2.8v-4.7h2.7v5.6h2.7v-4.4h2.8v3.6h2.8v-.7h2.7v-4.5h2.7v5.2h2.8v-7h2.8v9.4h2.7v-5.1h2.7v3.8h2.8v-7.1h2.8v5.6h2.7v-5h2.7v.6h2.8v4h2.8v5.1h2.7v2h2.7v-2.9h2.8v-1.8h2.8v4.8h2.7v-2.4h2.7v-6.4h2.8v11.6h2.8v-10.1h2.7v6.5h2.7v-4h2.8v4.6h2.8v-5h2.7v6.2h2.7v2.5h2.8v-5.9h2.8v-2.7h2.7v-.6h2.7v1.8h2.8v2.5h2.8v2.8h2.7v-4h2.7v-2.5h2.8v4.6h2.8v2.8h2.7v-4.5h2.7v.2h2.8v6.6h2.8v-11.5h2.7v8.1h2.7v.1h2.8v-7.5h2.8v1.7h2.7v4.3h2.7v.8h2.8v1.7h2.8v-7.4h2.7v6.5h2.7v.4h2.8v-4.2h2.8v8.1h2.7v-3.5h2.7v-3.5h2.8v5.7h2.8v-.5h2.7v-2.6h2.7v5h2.8v-1.2h2.8v4.4h2.7v-5.1h2.7v-4.3h2.8v.3h2.8v6.3h2.7v-3.1h2.7v-1.6h2.8v6.7h2.8v-4.5h2.7v5.2h2.7v-1.2h2.8v-.9h2.8v-.2h2.7v4h2.7v-1.8h2.8v-1.5h2.8v6.7h2.7v-8.6h2.7v4.9h2.8v-2.1h2.8v4.5h2.7v-3.6h2.7v-3.6h2.8v1.3h2.8v1.8h2.7v3.2h2.7v-2h2.8v1.4h2.8v2.4h2.7v-6.3h2.7v7.6h2.8v2h2.8v-2.9h2.7v-2.2h2.7v2.7h2.8v-3.8h2.8v2.8h2.7v-2.5h2.7v5.8h2.8v2h2.8v-3.8h2.7v4.5h2.7v-5.1h2.8v4.4h2.8v1.5h2.7v-1.1h2.7v-1.2h2.8v.3h2.8v-2h2.7v3.6h2.7v-1.7h2.8v-1.5h2.8v3.9h2.7v-4.3h2.7v-3h2.8v5.6h2.8v2.2h2.7v-.2h2.7v3.5h2.8v1h2.8v-10.5h2.7v6.7h2.7v22h-2.7v-4.6h-2.7v5.7h-2.8v-1.2h-2.8v2h-2.7v1.1h-2.7v-7.2h-2.8v1.7h-2.8v2.7h-2.7v-2h-2.7v.8h-2.8v-1.8h-2.8v3.6h-2.7v-8.3h-2.7v1.4h-2.8v8.4h-2.8v-7.3h-2.7v-1.5h-2.7v3.3h-2.8v-6.8h-2.8v6.5h-2.7v-.6h-2.7v-3.6h-2.8v2.1h-2.8v-2.2h-2.7v.4h-2.7v-1.8h-2.8v8.1h-2.8v-5.7h-2.7v-.6h-2.7v.8h-2.8v.5h-2.8v-4.1h-2.7v8h-2.7v-3.6h-2.8v-.4h-2.8v-3.5h-2.7v-.3h-2.7v.7h-2.8v-3.4h-2.8v-.5h-2.7v2.8h-2.7v4.7h-2.8v-7.7h-2.8v7.7h-2.7v-8.3h-2.7v.2h-2.8v-1.1h-2.8v5h-2.7v-5.1h-2.7v3.3h-2.8v-7.9h-2.8v2.8h-2.7v2.8h-2.7v6.3h-2.8v-6h-2.8v1.8h-2.7v-.5h-2.7v1.9h-2.8v-7.9h-2.8v9.4h-2.7v-.2h-2.7v-10.3h-2.8v.4h-2.8v-1.7h-2.7v4.9h-2.7v-6.7h-2.8v8.2h-2.8v1.1h-2.7v-4.1h-2.7v-1.8h-2.8v5.3h-2.8v-2.2h-2.7v-3.3h-2.7v-3.1h-2.8v4.8h-2.8v-1.7h-2.7v1.8h-2.7v-.9h-2.8v3.4h-2.8v-8.1h-2.7v4.2h-2.7v3.9h-2.8v-4.5h-2.8v-2.2h-2.7v1.6h-2.7v-1.6h-2.8v3.8h-2.8v-1.7h-2.7v-7.5h-2.7v3.8h-2.8v2.2h-2.8v2.1h-2.7v-4.6h-2.7v3h-2.8v-.2h-2.8v2.5h-2.7v-8.2h-2.7v3.4h-2.8v-1.7h-2.8v-1.2h-2.7v1.2h-2.7v6.1h-2.8v.4h-2.8v-3.3h-2.7v.5h-2.7v-.3h-2.8v5.8h-2.8v-4.3h-2.7v-6.1h-2.7v4h-2.8v-5.4h-2.8v3.9h-2.7v.2h-2.7v-1h-2.8v-2.4h-2.8v1.4h-2.7v3.9h-2.7v-.6h-2.8v1h-2.8v2.8h-2.7v-.9h-2.7v.5h-2.8v-4.8h-2.8v-4.3h-2.7v3h-2.7v-6.9h-2.8v7.1h-2.8v1.6h-2.7v-.6h-2.7v-7.9h-2.8v-5.3h-2.8v5.4h-2.7v7.3h-2.7v-5.3h-2.8v2.6h-2.8v-2.2h-2.7v-7.6h-2.7v5.4h-2.8v1.1h-2.8v1h-2.7v-1.5h-2.7v.4h-2.8v-4.6h-2.8v1.7h-2.7v-3.3h-2.7v-.9h-2.8v3.2h-2.8v-3.9h-2.7v3.9h-2.7v1.6h-2.8v-4.4h-2.8v2h-2.7v-5.5h-2.7v3.3h-2.8v-1.2h-2.8v1.5h-2.7v-7.5h-2.7v7.4h-2.8v-5.3h-2.8v-.8h-2.7v2.4h-2.7v-2.7h-2.8v3.8h-2.8v-4.4h-2.7v-.4h-2.7v-.5h-2.8v4.1h-2.8v-3.7h-2.7v-1.9h-2.7v.2h-2.8v6.4h-2.8v-6.8h-2.7v-1.1h-2.7v7.2h-2.8v-.4h-2.8v-1.7h-2.7v-5.7h-2.7v.8h-2.8v-4.7h-2.8v-2.2h-2.7v7.5h-2.7v-1.3h-2.8v.4h-2.8v3.8h-2.7v-9.3h-2.7v6.2h-2.8v2.8h-2.8v-4.1h-2.7v-1.3h-2.7v-3.5h-2.8v5.6h-2.8v-5.3h-2.7v-1.3h-2.7v3.4h-2.8v-4h-2.8v2.7h-2.7v-5h-2.7v-2.2h-2.8v4.7h-2.8v-6.1h-2.7v-5.8h-2.7v7h-2.8v-7h-2.8v.6h-2.7v11.3h-2.7v-8.1h-2.8v1.9h-2.8v-2.9h-2.7v-2.4h-2.7v-3.4h-2.8v9.3h-2.8v-2.8h-2.7v-5.8h-2.7v.9h-2.8v-.5h-2.8v1.3h-2.7v-6.6h-2.7v.4h-2.8v9.6h-2.8v-8.4h-2.7v3h-2.7v-4.2h-2.8v-2.2h-2.8v-3.5h-2.7v6.1h-2.7v-3.6h-2.8v-.1h-2.8v2.6h-2.7v-7.9h-2.7v-5h-2.8v3.5h-2.8v-4.3h-2.7v11.1h-2.7v-10.7h-2.8v2.4h-2.8v1.4h-2.7v-6.5h-2.7v-3.3h-2.8v11.8h-2.8v-6.4h-2.7v-3.8h-2.7v1.1h-2.8v-1.5h-2.8v.6h-2.7v-6.2h-2.7v5.2h-2.8v2.9h-2.8v-14.7h-2.7v4.7h-2.7v0h-2.8v-7.7h-2.8v.3h-2.7v-5h-2.7v1h-2.8v5.9h-2.8v-8.9h-2.7v2h-2.7v-3.2h-2.8v-6.7h-2.8v8.1h-2.7v.3h-2.7v-8.2h-2.8v3.7h-2.8v4.1h-2.7v-14.1h-2.7v-2.4h-2.8v-6.7h-2.8v15h-2.7v-16.7h-2.7v2.9h-2.8v-4.5h-2.8v-4.1h-2.7v3.2h-2.7v3.8h-2.8v-2.2h-2.8v2.3h-2.7v.7h-2.7v-12.6h-2.8v.9h-2.8v3.4h-2.7v-14h-2.7v-1.6h-2.8v15.2h-2.8v-9.9h-2.7v-7.8h-2.7v3.9h-2.8v-7.5h-2.8v-3.7h-2.7v2.3h-2.7v-9.1h-2.8v-3.3h-2.8v.7h-2.7v-4.6h-2.7v8.2h-2.8v-11.2h-2.8v-5.8h-2.7v2.6h-2.7v3.9h-2.8v6.2h-2.8v-2.4h-2.7v-1.8h-2.7v-2.7h-2.8v-10.2h-2.8v-3.6h-2.7v7.6h-2.7v-6.2h-2.8v-10.2h-2.8v13.4h-2.7v-13.1h-2.7v-2.7h-2.8v.9h-2.8v-6.8h-2.7v-10.2h-2.7v2h-2.8v-1.5h-2.8v6.8h-2.7v1.1h-2.7v1.4h-2.8v-18.6h-2.8v.1h-2.7v-9.7h-2.7v13.4h-2.8v5.2h-2.8v-9.3h-2.7v-7.7h-2.7v-.3h-2.8v9.1h-2.8v-10.2h-2.7v-8.7h-2.7v5.8h-2.8v-9.3h-2.8v2.8h-2.7v2.6h-2.7v6.1h-2.8v-14.1h-2.8v7.9h-2.7v-4.6h-2.7v-13.3h-2.8v9.5h-2.8v6.5h-2.7v-.5h-2.7v-12h-2.8v-7.5h-2.8v13.5h-2.7v-25h-2.7v10.3h-2.8v-4.5h-2.8v-1.4h-2.7v-8.6h-2.7v1.3h-2.8v2.5h-2.8v-5.4h-2.7v1.7h-2.7v-7.5h-2.8v7.9h-2.8v-11.1h-2.7v-9.2h-2.7v2.9h-2.8v6.9h-2.8v-7.4h-2.7v-11.3h-2.7v-10.7h-2.8v4.4h-2.8v-11.9h-2.7v-6.3h-2.7v-1.3h-2.8v-.1h-2.8v-3.5h-2.7v-6.9h-2.7v11.6h-2.8v-11.3h-2.8v-15.2h-2.7v-4.9h-2.7v10.8h-2.8v6.6h-2.8v-3h-2.7v-4.7h-2.7v-9.3h-2.8v-8.7h-2.8v-2h-2.7v5.4h-2.7v-20.5h-2.8v3.5h-2.8v-6.7h-2.7v1.3h-2.7v-10.1h-2.8v-8.3h-2.8v-3.4h-2.7v-4.9h-2.7v-11.7h-2.8v6.9h-2.8v-1.7h-2.7v-3.4h-2.7v-10.5h-2.8v-2.1h-2.8v-3.9h-2.7v-9.1h-2.7v-3.2h-2.8v-4.7h-2.8v-10.9h-2.7v9.8h-2.7v-5.8h-2.8v-20.4h-2.8v-11.1h-2.7v-.1h-2.7v9.2h-2.8v-20.7h-2.8v-11h-2.7v.7h-2.7v-16.4h-2.8v5.2h-2.8v-1.3h-2.7v-15.2h-2.7v-17.2h-2.8v-7.4h-2.8v7.6h-2.7v-5.4h-2.7v-3.8h-2.8v-1.1h-2.8v-13.7h-2.7v7.9h-2.7v-15.4h-2.8v-2.3h-2.8v2.8h-2.7v-15h-2.7v.8h-2.8v6.4h-2.8v-2.8h-2.7v1.8h-2.7v8.3h-2.8v-3.4h-2.8v11.3h-2.7v-1.3h-2.7v8.6h-2.8v-14.4h-2.8v-2.3h-2.7v24.2h-2.7v-9.1h-2.8v8.1h-2.8v13.4h-2.7v5.5h-2.7v4.8h-2.8v-1.5h-2.8v11h-2.7v3.1h-2.7v6.1h-2.8v20.3h-2.8v5.9h-2.7v-5.3h-2.7v8.7h-2.8v14.3h-2.8v16.4h-2.7v8.8h-2.7v-1.5h-2.8v12.4h-2.8v3h-2.7v18.6h-2.7v-9.6h-2.8v19.5h-2.8v-6.4h-2.7v20.2h-2.7v-5.1h-2.8v1.1h-2.8v5.4h-2.7v8.4h-2.7v5.6h-2.8v-7.9h-2.8v18.2h-2.7v-7.9h-2.7v.7h-2.8v8h-2.8v-23.7h-2.7v6.5h-2.7v2.4h-2.8v-9.6h-2.8v12.2h-2.7v-6.3h-2.7v-8.9h-2.8v.6h-2.8v9.3h-2.7v-11.7h-2.7v2.7h-2.8v-5.7h-2.8v-1.8h-2.7v-5h-2.7v-13h-2.8v-9.6h-2.8v-3.3h-2.7v.2h-2.7v-4.6h-2.8v-4.4h-2.8v-12.9h-2.7v1.7h-2.7v-4.2h-2.8v-7.5h-2.8v-7.9h-2.7v.7h-2.7v-10.7h-2.8v-4.5h-2.8v-9.8h-2.7v2.5h-2.7v-2h-2.8v-7.3h-2.8v-8.2h-2.7v-2.7h-2.7v-14.2h-2.8v12.5h-2.8v-13.6h-2.7v-5.8h-2.7v-3.7h-2.8v.3h-2.8v-3.2h-2.7v-10.6h-2.7v3.7h-2.8v-1.4h-2.8v-8.4h-2.7v4.2h-2.7v-11.2h-2.8v7.8h-2.8v-17.6h-2.7v-3.1h-2.7v-11.4h-2.8v7.8h-2.8v-11.2h-2.7v6.7h-2.7v-19.4h-2.8z" fill="#008000"/>
</g>
<g>
<path d="M344 75 V1439" stroke="#111" stroke-width="5.5" fill="none"/>
<path d="M320 1415 H1965" stroke="#111" stroke-width="5" fill="none"/>
<path d="M320 77.9 H346" stroke="#111" stroke-width="5.5"/>
<path d="M330.3 245.2 H346" stroke="#111" stroke-width="5"/>
<path d="M320 412.3 H346" stroke="#111" stroke-width="5.5"/>
<path d="M330.3 579.6 H346" stroke="#111" stroke-width="5"/>
<path d="M320 746.6 H346" stroke="#111" stroke-width="5.5"/>
<path d="M330.3 913.9 H346" stroke="#111" stroke-width="5"/>
<path d="M320 1081.0 H346" stroke="#111" stroke-width="5.5"/>
<path d="M330.3 1248.3 H346" stroke="#111" stroke-width="5"/>
<path d="M344.0 1415 V1439" stroke="#111" stroke-width="5"/>
<path d="M514.3 1415 V1439" stroke="#111" stroke-width="5"/>
<path d="M684.6 1415 V1439" stroke="#111" stroke-width="5"/>
<path d="M854.9 1415 V1439" stroke="#111" stroke-width="5"/>
<path d="M1025.2 1415 V1439" stroke="#111" stroke-width="5"/>
<path d="M1195.5 1415 V1439" stroke="#111" stroke-width="5"/>
<path d="M1365.8 1415 V1439" stroke="#111" stroke-width="5"/>
<path d="M1536.1 1415 V1439" stroke="#111" stroke-width="5"/>
<path d="M1706.4 1415 V1439" stroke="#111" stroke-width="5"/>
<path d="M1876.7 1415 V1439" stroke="#111" stroke-width="5"/>
<text x="308.5" y="0" stroke="#fdfcfd" stroke-width="0.9" font-family="&quot;Liberation Serif&quot;, &quot;Times New Roman&quot;, serif" font-size="51.5" text-anchor="end" transform="translate(0 94.0) scale(1 1.03)">100,000</text>
<text x="304.0" y="0" stroke="#fdfcfd" stroke-width="0.9" font-family="&quot;Liberation Serif&quot;, &quot;Times New Roman&quot;, serif" font-size="51.5" text-anchor="end" transform="translate(0 429.0) scale(1 1.03)">75,000</text>
<text x="301.5" y="0" stroke="#fdfcfd" stroke-width="0.9" font-family="&quot;Liberation Serif&quot;, &quot;Times New Roman&quot;, serif" font-size="51.5" text-anchor="end" transform="translate(0 758.5) scale(1 1.03)">50,000</text>
<text x="304.0" y="0" stroke="#fdfcfd" stroke-width="0.9" font-family="&quot;Liberation Serif&quot;, &quot;Times New Roman&quot;, serif" font-size="51.5" text-anchor="end" transform="translate(0 1094.0) scale(1 1.03)">25,000</text>
<text x="344.0" y="0" stroke="#fdfcfd" stroke-width="0.9" font-family="&quot;Liberation Serif&quot;, &quot;Times New Roman&quot;, serif" font-size="51.5" text-anchor="middle" transform="translate(0 1491.5) scale(1 1.045)">0</text>
<text x="514.3" y="0" stroke="#fdfcfd" stroke-width="0.9" font-family="&quot;Liberation Serif&quot;, &quot;Times New Roman&quot;, serif" font-size="51.5" text-anchor="middle" transform="translate(0 1491.5) scale(1 1.045)">10</text>
<text x="684.6" y="0" stroke="#fdfcfd" stroke-width="0.9" font-family="&quot;Liberation Serif&quot;, &quot;Times New Roman&quot;, serif" font-size="51.5" text-anchor="middle" transform="translate(0 1491.5) scale(1 1.045)">20</text>
<text x="854.9" y="0" stroke="#fdfcfd" stroke-width="0.9" font-family="&quot;Liberation Serif&quot;, &quot;Times New Roman&quot;, serif" font-size="51.5" text-anchor="middle" transform="translate(0 1491.5) scale(1 1.045)">30</text>
<text x="1025.2" y="0" stroke="#fdfcfd" stroke-width="0.9" font-family="&quot;Liberation Serif&quot;, &quot;Times New Roman&quot;, serif" font-size="51.5" text-anchor="middle" transform="translate(0 1491.5) scale(1 1.045)">40</text>
<text x="1195.5" y="0" stroke="#fdfcfd" stroke-width="0.9" font-family="&quot;Liberation Serif&quot;, &quot;Times New Roman&quot;, serif" font-size="51.5" text-anchor="middle" transform="translate(0 1491.5) scale(1 1.045)">50</text>
<text x="1365.8" y="0" stroke="#fdfcfd" stroke-width="0.9" font-family="&quot;Liberation Serif&quot;, &quot;Times New Roman&quot;, serif" font-size="51.5" text-anchor="middle" transform="translate(0 1491.5) scale(1 1.045)">60</text>
<text x="1536.1" y="0" stroke="#fdfcfd" stroke-width="0.9" font-family="&quot;Liberation Serif&quot;, &quot;Times New Roman&quot;, serif" font-size="51.5" text-anchor="middle" transform="translate(0 1491.5) scale(1 1.045)">70</text>
<text x="1706.4" y="0" stroke="#fdfcfd" stroke-width="0.9" font-family="&quot;Liberation Serif&quot;, &quot;Times New Roman&quot;, serif" font-size="51.5" text-anchor="middle" transform="translate(0 1491.5) scale(1 1.045)">80</text>
<text x="1876.7" y="0" stroke="#fdfcfd" stroke-width="0.9" font-family="&quot;Liberation Serif&quot;, &quot;Times New Roman&quot;, serif" font-size="51.5" text-anchor="middle" transform="translate(0 1491.5) scale(1 1.045)">90</text>
<text x="0" y="0" stroke="#fdfcfd" stroke-width="0.9" font-family="&quot;Liberation Serif&quot;, &quot;Times New Roman&quot;, serif" font-size="67.5" transform="translate(859 1590) scale(1 1.03)">Diffraction angle (2θ)</text>
<text x="0" y="0" stroke="#fdfcfd" stroke-width="0.9" font-family="&quot;Liberation Serif&quot;, &quot;Times New Roman&quot;, serif" font-size="68" transform="translate(92.5 890.5) rotate(-90) scale(1 1.03)">Intensity/%</text>
<rect x="1461" y="222.3" width="201" height="2.7" fill="#6aba6a"/>
<rect x="1461" y="225.0" width="201" height="3.0" fill="#9ad09a"/>
<text x="0" y="0" stroke="#fdfcfd" stroke-width="0.9" font-family="&quot;Liberation Serif&quot;, &quot;Times New Roman&quot;, serif" font-size="51.5" transform="translate(1672.5 255.0) scale(1 1.04)">QPE90</text>
<rect x="1461" y="331.3" width="201" height="2.7" fill="#ff33ff"/>
<rect x="1461" y="334.0" width="201" height="2.7" fill="#f5b0f5"/>
<text x="0" y="0" stroke="#fdfcfd" stroke-width="0.9" font-family="&quot;Liberation Serif&quot;, &quot;Times New Roman&quot;, serif" font-size="51.5" transform="translate(1672.5 363.5) scale(1 1.04)">QPE80</text>
<rect x="1461" y="440.1" width="201" height="3.2" fill="#0000ff"/>
<text x="0" y="0" stroke="#fdfcfd" stroke-width="0.9" font-family="&quot;Liberation Serif&quot;, &quot;Times New Roman&quot;, serif" font-size="51.5" transform="translate(1672.5 472.0) scale(1 1.04)">QPE70</text>
<rect x="1461" y="549.5" width="201" height="2.9" fill="#ee0000"/>
<text x="0" y="0" stroke="#fdfcfd" stroke-width="0.9" font-family="&quot;Liberation Serif&quot;, &quot;Times New Roman&quot;, serif" font-size="51.5" transform="translate(1672.5 580.5) scale(1 1.04)">QPE60</text>
<rect x="1461" y="656.1" width="201" height="2.4" fill="#c8b8c8"/>
<rect x="1461" y="658.5" width="201" height="2.8" fill="#2a2a35"/>
<text x="0" y="0" stroke="#fdfcfd" stroke-width="0.9" font-family="&quot;Liberation Serif&quot;, &quot;Times New Roman&quot;, serif" font-size="51.5" transform="translate(1672.5 689.0) scale(1 1.04)">QPE50</text>
</g>
</svg>
</body></html>
